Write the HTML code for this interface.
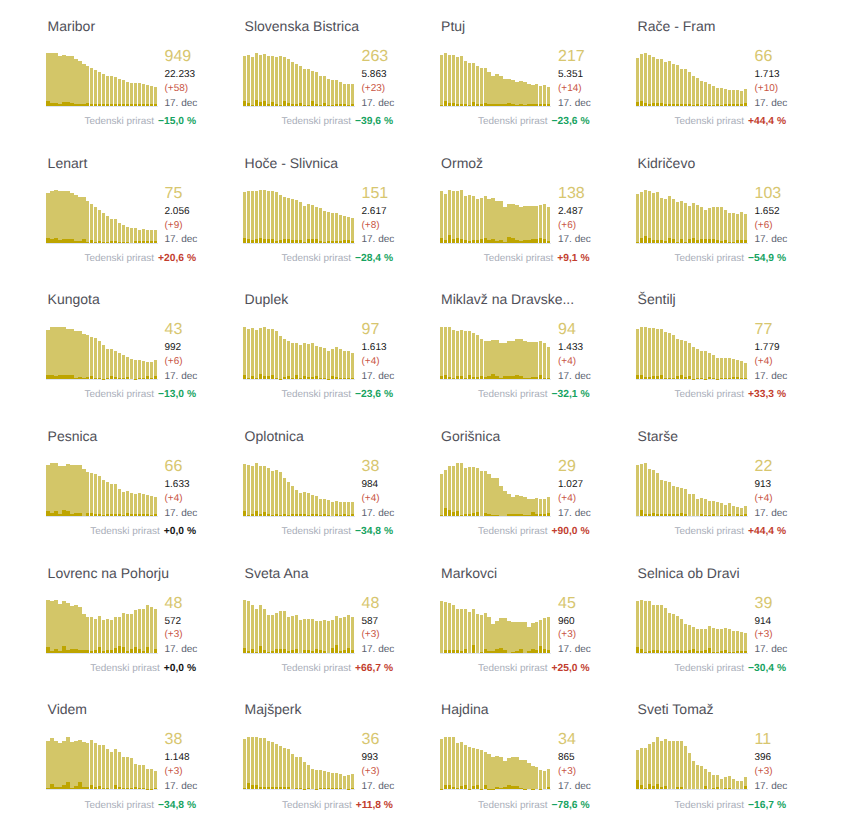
<!DOCTYPE html>
<html><head><meta charset="utf-8"><style>
html,body{margin:0;padding:0;background:#fff;width:843px;height:830px;overflow:hidden}
svg{display:block;font-family:"Liberation Sans", sans-serif}
</style></head><body>
<svg width="843" height="830" viewBox="0 0 843 830" shape-rendering="crispEdges">
<g text-rendering="geometricPrecision" shape-rendering="auto">
<rect x="46" y="53" width="4" height="53" fill="#d3c668"/><rect x="50" y="53" width="4" height="53" fill="#d3c668"/><rect x="54" y="53" width="4" height="53" fill="#d3c668"/><rect x="58" y="56" width="4" height="50" fill="#d3c668"/><rect x="62" y="55" width="4" height="51" fill="#d3c668"/><rect x="66" y="56" width="4" height="50" fill="#d3c668"/><rect x="70" y="56" width="4" height="50" fill="#d3c668"/><rect x="74" y="59" width="4" height="47" fill="#d3c668"/><rect x="78" y="61" width="4" height="45" fill="#d3c668"/><rect x="82" y="64" width="4" height="42" fill="#d3c668"/><rect x="86" y="66" width="3" height="40" fill="#d3c668"/><rect x="90" y="68" width="3" height="38" fill="#d3c668"/><rect x="94" y="70" width="3" height="36" fill="#d3c668"/><rect x="98" y="72" width="3" height="34" fill="#d3c668"/><rect x="102" y="74" width="3" height="32" fill="#d3c668"/><rect x="106" y="76" width="3" height="30" fill="#d3c668"/><rect x="110" y="76" width="3" height="30" fill="#d3c668"/><rect x="114" y="77" width="3" height="29" fill="#d3c668"/><rect x="118" y="79" width="3" height="27" fill="#d3c668"/><rect x="122" y="80" width="3" height="26" fill="#d3c668"/><rect x="126" y="82" width="3" height="24" fill="#d3c668"/><rect x="130" y="83" width="3" height="23" fill="#d3c668"/><rect x="134" y="83" width="3" height="23" fill="#d3c668"/><rect x="138" y="83" width="3" height="23" fill="#d3c668"/><rect x="142" y="84" width="3" height="22" fill="#d3c668"/><rect x="146" y="85" width="3" height="21" fill="#d3c668"/><rect x="150" y="86" width="3" height="20" fill="#d3c668"/><rect x="154" y="87" width="3" height="19" fill="#d3c668"/><rect x="46" y="106" width="112" height="1" fill="#dde4f3"/><rect x="46" y="101" width="4" height="5" fill="#bea500"/><rect x="50" y="103" width="4" height="3" fill="#bea500"/><rect x="54" y="103" width="4" height="3" fill="#bea500"/><rect x="58" y="104" width="4" height="2" fill="#bea500"/><rect x="62" y="102" width="4" height="4" fill="#bea500"/><rect x="66" y="102" width="4" height="4" fill="#bea500"/><rect x="70" y="103" width="4" height="3" fill="#bea500"/><rect x="74" y="104" width="4" height="2" fill="#bea500"/><rect x="78" y="104" width="4" height="2" fill="#bea500"/><rect x="82" y="104" width="4" height="2" fill="#bea500"/><rect x="86" y="103" width="3" height="3" fill="#bea500"/><rect x="90" y="104" width="3" height="2" fill="#bea500"/><rect x="94" y="104" width="3" height="2" fill="#bea500"/><rect x="98" y="104" width="3" height="2" fill="#bea500"/><rect x="102" y="104" width="3" height="2" fill="#bea500"/><rect x="106" y="104" width="3" height="2" fill="#bea500"/><rect x="110" y="104" width="3" height="2" fill="#bea500"/><rect x="114" y="104" width="3" height="2" fill="#bea500"/><rect x="118" y="104" width="3" height="2" fill="#bea500"/><rect x="122" y="104" width="3" height="2" fill="#bea500"/><rect x="126" y="104" width="3" height="2" fill="#bea500"/><rect x="130" y="104" width="3" height="2" fill="#bea500"/><rect x="134" y="104" width="3" height="2" fill="#bea500"/><rect x="138" y="104" width="3" height="2" fill="#bea500"/><rect x="142" y="104" width="3" height="2" fill="#bea500"/><rect x="146" y="104" width="3" height="2" fill="#bea500"/><rect x="150" y="104" width="3" height="2" fill="#bea500"/><rect x="154" y="104" width="3" height="2" fill="#bea500"/>
<text x="47.6" y="31" font-size="14" fill="#4f4f58">Maribor</text>
<text x="164.5" y="61" font-size="16" fill="#d7c66f">949</text>
<text x="164.5" y="77" font-size="10" fill="#161616">22.233</text>
<text x="164.5" y="91" font-size="10" fill="#c85443">(+58)</text>
<text x="164.5" y="106" font-size="10" fill="#5b6270">17. dec</text>
<text x="196" y="124" font-size="10" text-anchor="end"><tspan fill="#a9aeb9" font-size="9.95">Tedenski prirast</tspan><tspan dx="4" font-size="10.25" font-weight="bold" fill="#17a361">−15,0 %</tspan></text>
<rect x="243" y="56" width="3" height="50" fill="#d3c668"/><rect x="247" y="55" width="3" height="51" fill="#d3c668"/><rect x="251" y="57" width="3" height="49" fill="#d3c668"/><rect x="255" y="53" width="3" height="53" fill="#d3c668"/><rect x="259" y="55" width="3" height="51" fill="#d3c668"/><rect x="263" y="54" width="3" height="52" fill="#d3c668"/><rect x="267" y="56" width="3" height="50" fill="#d3c668"/><rect x="271" y="56" width="3" height="50" fill="#d3c668"/><rect x="275" y="57" width="3" height="49" fill="#d3c668"/><rect x="279" y="56" width="3" height="50" fill="#d3c668"/><rect x="283" y="57" width="3" height="49" fill="#d3c668"/><rect x="287" y="59" width="3" height="47" fill="#d3c668"/><rect x="291" y="62" width="3" height="44" fill="#d3c668"/><rect x="295" y="64" width="3" height="42" fill="#d3c668"/><rect x="299" y="66" width="3" height="40" fill="#d3c668"/><rect x="303" y="69" width="3" height="37" fill="#d3c668"/><rect x="307" y="69" width="3" height="37" fill="#d3c668"/><rect x="311" y="71" width="3" height="35" fill="#d3c668"/><rect x="315" y="72" width="3" height="34" fill="#d3c668"/><rect x="319" y="76" width="3" height="30" fill="#d3c668"/><rect x="323" y="76" width="3" height="30" fill="#d3c668"/><rect x="327" y="79" width="3" height="27" fill="#d3c668"/><rect x="331" y="80" width="3" height="26" fill="#d3c668"/><rect x="335" y="80" width="3" height="26" fill="#d3c668"/><rect x="339" y="82" width="3" height="24" fill="#d3c668"/><rect x="343" y="84" width="3" height="22" fill="#d3c668"/><rect x="347" y="84" width="3" height="22" fill="#d3c668"/><rect x="351" y="84" width="3" height="22" fill="#d3c668"/><rect x="243" y="106" width="112" height="1" fill="#dde4f3"/><rect x="243" y="101" width="3" height="5" fill="#bea500"/><rect x="247" y="103" width="3" height="3" fill="#bea500"/><rect x="251" y="105" width="3" height="1" fill="#bea500"/><rect x="255" y="100" width="3" height="6" fill="#bea500"/><rect x="259" y="102" width="3" height="4" fill="#bea500"/><rect x="263" y="101" width="3" height="5" fill="#bea500"/><rect x="267" y="104" width="3" height="2" fill="#bea500"/><rect x="271" y="102" width="3" height="4" fill="#bea500"/><rect x="275" y="104" width="3" height="2" fill="#bea500"/><rect x="279" y="105" width="3" height="1" fill="#bea500"/><rect x="283" y="101" width="3" height="5" fill="#bea500"/><rect x="287" y="103" width="3" height="3" fill="#bea500"/><rect x="291" y="104" width="3" height="2" fill="#bea500"/><rect x="295" y="104" width="3" height="2" fill="#bea500"/><rect x="299" y="103" width="3" height="3" fill="#bea500"/><rect x="303" y="105" width="3" height="1" fill="#bea500"/><rect x="307" y="105" width="3" height="1" fill="#bea500"/><rect x="311" y="101" width="3" height="5" fill="#bea500"/><rect x="315" y="104" width="3" height="2" fill="#bea500"/><rect x="319" y="105" width="3" height="1" fill="#bea500"/><rect x="323" y="103" width="3" height="3" fill="#bea500"/><rect x="327" y="105" width="3" height="1" fill="#bea500"/><rect x="331" y="105" width="3" height="1" fill="#bea500"/><rect x="335" y="104" width="3" height="2" fill="#bea500"/><rect x="339" y="104" width="3" height="2" fill="#bea500"/><rect x="343" y="104" width="3" height="2" fill="#bea500"/><rect x="347" y="105" width="3" height="1" fill="#bea500"/><rect x="351" y="104" width="3" height="2" fill="#bea500"/>
<text x="244.6" y="31" font-size="14" fill="#4f4f58">Slovenska Bistrica</text>
<text x="361.5" y="61" font-size="16" fill="#d7c66f">263</text>
<text x="361.5" y="77" font-size="10" fill="#161616">5.863</text>
<text x="361.5" y="91" font-size="10" fill="#c85443">(+23)</text>
<text x="361.5" y="106" font-size="10" fill="#5b6270">17. dec</text>
<text x="393" y="124" font-size="10" text-anchor="end"><tspan fill="#a9aeb9" font-size="9.95">Tedenski prirast</tspan><tspan dx="4" font-size="10.25" font-weight="bold" fill="#17a361">−39,6 %</tspan></text>
<rect x="440" y="55" width="3" height="51" fill="#d3c668"/><rect x="444" y="53" width="3" height="53" fill="#d3c668"/><rect x="448" y="55" width="3" height="51" fill="#d3c668"/><rect x="452" y="55" width="3" height="51" fill="#d3c668"/><rect x="456" y="57" width="3" height="49" fill="#d3c668"/><rect x="460" y="56" width="3" height="50" fill="#d3c668"/><rect x="464" y="61" width="3" height="45" fill="#d3c668"/><rect x="468" y="63" width="3" height="43" fill="#d3c668"/><rect x="472" y="63" width="3" height="43" fill="#d3c668"/><rect x="476" y="66" width="3" height="40" fill="#d3c668"/><rect x="480" y="68" width="3" height="38" fill="#d3c668"/><rect x="484" y="68" width="3" height="38" fill="#d3c668"/><rect x="487" y="72" width="4" height="34" fill="#d3c668"/><rect x="491" y="76" width="4" height="30" fill="#d3c668"/><rect x="495" y="74" width="4" height="32" fill="#d3c668"/><rect x="499" y="76" width="4" height="30" fill="#d3c668"/><rect x="503" y="79" width="4" height="27" fill="#d3c668"/><rect x="507" y="79" width="4" height="27" fill="#d3c668"/><rect x="511" y="80" width="4" height="26" fill="#d3c668"/><rect x="515" y="82" width="4" height="24" fill="#d3c668"/><rect x="519" y="81" width="4" height="25" fill="#d3c668"/><rect x="523" y="82" width="4" height="24" fill="#d3c668"/><rect x="527" y="84" width="4" height="22" fill="#d3c668"/><rect x="531" y="85" width="4" height="21" fill="#d3c668"/><rect x="535" y="84" width="3" height="22" fill="#d3c668"/><rect x="539" y="86" width="3" height="20" fill="#d3c668"/><rect x="543" y="85" width="3" height="21" fill="#d3c668"/><rect x="547" y="87" width="3" height="19" fill="#d3c668"/><rect x="440" y="106" width="111" height="1" fill="#dde4f3"/><rect x="440" y="105" width="3" height="1" fill="#bea500"/><rect x="444" y="101" width="3" height="5" fill="#bea500"/><rect x="448" y="103" width="3" height="3" fill="#bea500"/><rect x="452" y="103" width="3" height="3" fill="#bea500"/><rect x="456" y="104" width="3" height="2" fill="#bea500"/><rect x="460" y="104" width="3" height="2" fill="#bea500"/><rect x="464" y="104" width="3" height="2" fill="#bea500"/><rect x="468" y="105" width="3" height="1" fill="#bea500"/><rect x="472" y="102" width="3" height="4" fill="#bea500"/><rect x="476" y="104" width="3" height="2" fill="#bea500"/><rect x="480" y="104" width="3" height="2" fill="#bea500"/><rect x="484" y="103" width="3" height="3" fill="#bea500"/><rect x="487" y="104" width="4" height="2" fill="#bea500"/><rect x="491" y="104" width="4" height="2" fill="#bea500"/><rect x="495" y="104" width="4" height="2" fill="#bea500"/><rect x="499" y="104" width="4" height="2" fill="#bea500"/><rect x="503" y="104" width="4" height="2" fill="#bea500"/><rect x="507" y="103" width="4" height="3" fill="#bea500"/><rect x="511" y="104" width="4" height="2" fill="#bea500"/><rect x="515" y="105" width="4" height="1" fill="#bea500"/><rect x="519" y="104" width="4" height="2" fill="#bea500"/><rect x="523" y="105" width="4" height="1" fill="#bea500"/><rect x="527" y="104" width="4" height="2" fill="#bea500"/><rect x="531" y="104" width="4" height="2" fill="#bea500"/><rect x="535" y="104" width="3" height="2" fill="#bea500"/><rect x="539" y="104" width="3" height="2" fill="#bea500"/><rect x="543" y="104" width="3" height="2" fill="#bea500"/><rect x="547" y="104" width="3" height="2" fill="#bea500"/>
<text x="441.1" y="31" font-size="14" fill="#4f4f58">Ptuj</text>
<text x="558.0" y="61" font-size="16" fill="#d7c66f">217</text>
<text x="558.0" y="77" font-size="10" fill="#161616">5.351</text>
<text x="558.0" y="91" font-size="10" fill="#c85443">(+14)</text>
<text x="558.0" y="106" font-size="10" fill="#5b6270">17. dec</text>
<text x="589.5" y="124" font-size="10" text-anchor="end"><tspan fill="#a9aeb9" font-size="9.95">Tedenski prirast</tspan><tspan dx="4" font-size="10.25" font-weight="bold" fill="#17a361">−23,6 %</tspan></text>
<rect x="636" y="58" width="3" height="48" fill="#d3c668"/><rect x="640" y="54" width="3" height="52" fill="#d3c668"/><rect x="644" y="53" width="3" height="53" fill="#d3c668"/><rect x="648" y="55" width="3" height="51" fill="#d3c668"/><rect x="652" y="57" width="3" height="49" fill="#d3c668"/><rect x="656" y="59" width="3" height="47" fill="#d3c668"/><rect x="660" y="59" width="3" height="47" fill="#d3c668"/><rect x="664" y="62" width="3" height="44" fill="#d3c668"/><rect x="668" y="61" width="3" height="45" fill="#d3c668"/><rect x="672" y="64" width="3" height="42" fill="#d3c668"/><rect x="676" y="65" width="3" height="41" fill="#d3c668"/><rect x="680" y="69" width="3" height="37" fill="#d3c668"/><rect x="684" y="69" width="3" height="37" fill="#d3c668"/><rect x="688" y="72" width="3" height="34" fill="#d3c668"/><rect x="692" y="76" width="3" height="30" fill="#d3c668"/><rect x="696" y="78" width="3" height="28" fill="#d3c668"/><rect x="700" y="81" width="3" height="25" fill="#d3c668"/><rect x="704" y="82" width="3" height="24" fill="#d3c668"/><rect x="708" y="84" width="3" height="22" fill="#d3c668"/><rect x="712" y="86" width="3" height="20" fill="#d3c668"/><rect x="716" y="88" width="3" height="18" fill="#d3c668"/><rect x="720" y="88" width="3" height="18" fill="#d3c668"/><rect x="724" y="89" width="3" height="17" fill="#d3c668"/><rect x="728" y="90" width="3" height="16" fill="#d3c668"/><rect x="732" y="90" width="3" height="16" fill="#d3c668"/><rect x="736" y="90" width="3" height="16" fill="#d3c668"/><rect x="740" y="91" width="3" height="15" fill="#d3c668"/><rect x="744" y="89" width="3" height="17" fill="#d3c668"/><rect x="636" y="106" width="112" height="1" fill="#dde4f3"/><rect x="636" y="102" width="3" height="4" fill="#bea500"/><rect x="640" y="101" width="3" height="5" fill="#bea500"/><rect x="644" y="103" width="3" height="3" fill="#bea500"/><rect x="648" y="104" width="3" height="2" fill="#bea500"/><rect x="652" y="103" width="3" height="3" fill="#bea500"/><rect x="656" y="103" width="3" height="3" fill="#bea500"/><rect x="660" y="103" width="3" height="3" fill="#bea500"/><rect x="664" y="104" width="3" height="2" fill="#bea500"/><rect x="668" y="104" width="3" height="2" fill="#bea500"/><rect x="672" y="104" width="3" height="2" fill="#bea500"/><rect x="676" y="104" width="3" height="2" fill="#bea500"/><rect x="680" y="104" width="3" height="2" fill="#bea500"/><rect x="684" y="104" width="3" height="2" fill="#bea500"/><rect x="688" y="104" width="3" height="2" fill="#bea500"/><rect x="692" y="105" width="3" height="1" fill="#bea500"/><rect x="696" y="104" width="3" height="2" fill="#bea500"/><rect x="700" y="105" width="3" height="1" fill="#bea500"/><rect x="704" y="104" width="3" height="2" fill="#bea500"/><rect x="708" y="105" width="3" height="1" fill="#bea500"/><rect x="712" y="105" width="3" height="1" fill="#bea500"/><rect x="716" y="104" width="3" height="2" fill="#bea500"/><rect x="720" y="105" width="3" height="1" fill="#bea500"/><rect x="724" y="104" width="3" height="2" fill="#bea500"/><rect x="728" y="104" width="3" height="2" fill="#bea500"/><rect x="732" y="104" width="3" height="2" fill="#bea500"/><rect x="736" y="104" width="3" height="2" fill="#bea500"/><rect x="740" y="104" width="3" height="2" fill="#bea500"/><rect x="744" y="103" width="3" height="3" fill="#bea500"/>
<text x="637.6" y="31" font-size="14" fill="#4f4f58">Rače - Fram</text>
<text x="754.5" y="61" font-size="16" fill="#d7c66f">66</text>
<text x="754.5" y="77" font-size="10" fill="#161616">1.713</text>
<text x="754.5" y="91" font-size="10" fill="#c85443">(+10)</text>
<text x="754.5" y="106" font-size="10" fill="#5b6270">17. dec</text>
<text x="786" y="124" font-size="10" text-anchor="end"><tspan fill="#a9aeb9" font-size="9.95">Tedenski prirast</tspan><tspan dx="4" font-size="10.25" font-weight="bold" fill="#c23d2e">+44,4 %</tspan></text>
<rect x="46" y="193" width="4" height="50" fill="#d3c668"/><rect x="50" y="191" width="4" height="52" fill="#d3c668"/><rect x="54" y="190" width="4" height="53" fill="#d3c668"/><rect x="58" y="191" width="4" height="52" fill="#d3c668"/><rect x="62" y="191" width="4" height="52" fill="#d3c668"/><rect x="66" y="191" width="4" height="52" fill="#d3c668"/><rect x="70" y="193" width="4" height="50" fill="#d3c668"/><rect x="74" y="195" width="4" height="48" fill="#d3c668"/><rect x="78" y="197" width="4" height="46" fill="#d3c668"/><rect x="82" y="197" width="4" height="46" fill="#d3c668"/><rect x="86" y="201" width="3" height="42" fill="#d3c668"/><rect x="90" y="204" width="3" height="39" fill="#d3c668"/><rect x="94" y="207" width="3" height="36" fill="#d3c668"/><rect x="98" y="210" width="3" height="33" fill="#d3c668"/><rect x="102" y="213" width="3" height="30" fill="#d3c668"/><rect x="106" y="216" width="3" height="27" fill="#d3c668"/><rect x="110" y="219" width="3" height="24" fill="#d3c668"/><rect x="114" y="219" width="3" height="24" fill="#d3c668"/><rect x="118" y="223" width="3" height="20" fill="#d3c668"/><rect x="122" y="225" width="3" height="18" fill="#d3c668"/><rect x="126" y="227" width="3" height="16" fill="#d3c668"/><rect x="130" y="228" width="3" height="15" fill="#d3c668"/><rect x="134" y="228" width="3" height="15" fill="#d3c668"/><rect x="138" y="230" width="3" height="13" fill="#d3c668"/><rect x="142" y="229" width="3" height="14" fill="#d3c668"/><rect x="146" y="230" width="3" height="13" fill="#d3c668"/><rect x="150" y="230" width="3" height="13" fill="#d3c668"/><rect x="154" y="230" width="3" height="13" fill="#d3c668"/><rect x="46" y="243" width="112" height="1" fill="#dde4f3"/><rect x="46" y="238" width="4" height="5" fill="#bea500"/><rect x="50" y="239" width="4" height="4" fill="#bea500"/><rect x="54" y="238" width="4" height="5" fill="#bea500"/><rect x="58" y="240" width="4" height="3" fill="#bea500"/><rect x="62" y="239" width="4" height="4" fill="#bea500"/><rect x="66" y="239" width="4" height="4" fill="#bea500"/><rect x="70" y="239" width="4" height="4" fill="#bea500"/><rect x="74" y="241" width="4" height="2" fill="#bea500"/><rect x="78" y="241" width="4" height="2" fill="#bea500"/><rect x="82" y="239" width="4" height="4" fill="#bea500"/><rect x="86" y="242" width="3" height="1" fill="#bea500"/><rect x="90" y="240" width="3" height="3" fill="#bea500"/><rect x="94" y="242" width="3" height="1" fill="#bea500"/><rect x="98" y="241" width="3" height="2" fill="#bea500"/><rect x="102" y="242" width="3" height="1" fill="#bea500"/><rect x="106" y="242" width="3" height="1" fill="#bea500"/><rect x="110" y="241" width="3" height="2" fill="#bea500"/><rect x="114" y="241" width="3" height="2" fill="#bea500"/><rect x="118" y="242" width="3" height="1" fill="#bea500"/><rect x="122" y="242" width="3" height="1" fill="#bea500"/><rect x="126" y="242" width="3" height="1" fill="#bea500"/><rect x="134" y="241" width="3" height="2" fill="#bea500"/><rect x="138" y="241" width="3" height="2" fill="#bea500"/><rect x="142" y="241" width="3" height="2" fill="#bea500"/><rect x="146" y="241" width="3" height="2" fill="#bea500"/><rect x="150" y="241" width="3" height="2" fill="#bea500"/><rect x="154" y="241" width="3" height="2" fill="#bea500"/>
<text x="47.6" y="168" font-size="14" fill="#4f4f58">Lenart</text>
<text x="164.5" y="198" font-size="16" fill="#d7c66f">75</text>
<text x="164.5" y="214" font-size="10" fill="#161616">2.056</text>
<text x="164.5" y="228" font-size="10" fill="#c85443">(+9)</text>
<text x="164.5" y="242" font-size="10" fill="#5b6270">17. dec</text>
<text x="196" y="261" font-size="10" text-anchor="end"><tspan fill="#a9aeb9" font-size="9.95">Tedenski prirast</tspan><tspan dx="4" font-size="10.25" font-weight="bold" fill="#c23d2e">+20,6 %</tspan></text>
<rect x="243" y="192" width="3" height="51" fill="#d3c668"/><rect x="247" y="191" width="3" height="52" fill="#d3c668"/><rect x="251" y="191" width="3" height="52" fill="#d3c668"/><rect x="255" y="191" width="3" height="52" fill="#d3c668"/><rect x="259" y="190" width="3" height="53" fill="#d3c668"/><rect x="263" y="190" width="3" height="53" fill="#d3c668"/><rect x="267" y="191" width="3" height="52" fill="#d3c668"/><rect x="271" y="191" width="3" height="52" fill="#d3c668"/><rect x="275" y="192" width="3" height="51" fill="#d3c668"/><rect x="279" y="195" width="3" height="48" fill="#d3c668"/><rect x="283" y="197" width="3" height="46" fill="#d3c668"/><rect x="287" y="198" width="3" height="45" fill="#d3c668"/><rect x="291" y="199" width="3" height="44" fill="#d3c668"/><rect x="295" y="200" width="3" height="43" fill="#d3c668"/><rect x="299" y="202" width="3" height="41" fill="#d3c668"/><rect x="303" y="206" width="3" height="37" fill="#d3c668"/><rect x="307" y="204" width="3" height="39" fill="#d3c668"/><rect x="311" y="205" width="3" height="38" fill="#d3c668"/><rect x="315" y="207" width="3" height="36" fill="#d3c668"/><rect x="319" y="208" width="3" height="35" fill="#d3c668"/><rect x="323" y="211" width="3" height="32" fill="#d3c668"/><rect x="327" y="212" width="3" height="31" fill="#d3c668"/><rect x="331" y="213" width="3" height="30" fill="#d3c668"/><rect x="335" y="213" width="3" height="30" fill="#d3c668"/><rect x="339" y="215" width="3" height="28" fill="#d3c668"/><rect x="343" y="216" width="3" height="27" fill="#d3c668"/><rect x="347" y="217" width="3" height="26" fill="#d3c668"/><rect x="351" y="218" width="3" height="25" fill="#d3c668"/><rect x="243" y="243" width="112" height="1" fill="#dde4f3"/><rect x="243" y="238" width="3" height="5" fill="#bea500"/><rect x="247" y="239" width="3" height="4" fill="#bea500"/><rect x="251" y="240" width="3" height="3" fill="#bea500"/><rect x="255" y="239" width="3" height="4" fill="#bea500"/><rect x="259" y="238" width="3" height="5" fill="#bea500"/><rect x="263" y="239" width="3" height="4" fill="#bea500"/><rect x="267" y="239" width="3" height="4" fill="#bea500"/><rect x="271" y="239" width="3" height="4" fill="#bea500"/><rect x="275" y="241" width="3" height="2" fill="#bea500"/><rect x="279" y="240" width="3" height="3" fill="#bea500"/><rect x="283" y="239" width="3" height="4" fill="#bea500"/><rect x="287" y="239" width="3" height="4" fill="#bea500"/><rect x="291" y="240" width="3" height="3" fill="#bea500"/><rect x="295" y="240" width="3" height="3" fill="#bea500"/><rect x="299" y="240" width="3" height="3" fill="#bea500"/><rect x="303" y="242" width="3" height="1" fill="#bea500"/><rect x="307" y="239" width="3" height="4" fill="#bea500"/><rect x="311" y="239" width="3" height="4" fill="#bea500"/><rect x="315" y="239" width="3" height="4" fill="#bea500"/><rect x="319" y="241" width="3" height="2" fill="#bea500"/><rect x="323" y="242" width="3" height="1" fill="#bea500"/><rect x="327" y="241" width="3" height="2" fill="#bea500"/><rect x="331" y="241" width="3" height="2" fill="#bea500"/><rect x="335" y="241" width="3" height="2" fill="#bea500"/><rect x="339" y="241" width="3" height="2" fill="#bea500"/><rect x="343" y="240" width="3" height="3" fill="#bea500"/><rect x="347" y="240" width="3" height="3" fill="#bea500"/><rect x="351" y="241" width="3" height="2" fill="#bea500"/>
<text x="244.6" y="168" font-size="14" fill="#4f4f58">Hoče - Slivnica</text>
<text x="361.5" y="198" font-size="16" fill="#d7c66f">151</text>
<text x="361.5" y="214" font-size="10" fill="#161616">2.617</text>
<text x="361.5" y="228" font-size="10" fill="#c85443">(+8)</text>
<text x="361.5" y="242" font-size="10" fill="#5b6270">17. dec</text>
<text x="393" y="261" font-size="10" text-anchor="end"><tspan fill="#a9aeb9" font-size="9.95">Tedenski prirast</tspan><tspan dx="4" font-size="10.25" font-weight="bold" fill="#17a361">−28,4 %</tspan></text>
<rect x="440" y="191" width="3" height="52" fill="#d3c668"/><rect x="444" y="194" width="3" height="49" fill="#d3c668"/><rect x="448" y="190" width="3" height="53" fill="#d3c668"/><rect x="452" y="191" width="3" height="52" fill="#d3c668"/><rect x="456" y="191" width="3" height="52" fill="#d3c668"/><rect x="460" y="190" width="3" height="53" fill="#d3c668"/><rect x="464" y="196" width="3" height="47" fill="#d3c668"/><rect x="468" y="195" width="3" height="48" fill="#d3c668"/><rect x="472" y="196" width="3" height="47" fill="#d3c668"/><rect x="476" y="199" width="3" height="44" fill="#d3c668"/><rect x="480" y="198" width="3" height="45" fill="#d3c668"/><rect x="484" y="196" width="3" height="47" fill="#d3c668"/><rect x="487" y="199" width="4" height="44" fill="#d3c668"/><rect x="491" y="198" width="4" height="45" fill="#d3c668"/><rect x="495" y="201" width="4" height="42" fill="#d3c668"/><rect x="499" y="201" width="4" height="42" fill="#d3c668"/><rect x="503" y="207" width="4" height="36" fill="#d3c668"/><rect x="507" y="204" width="4" height="39" fill="#d3c668"/><rect x="511" y="204" width="4" height="39" fill="#d3c668"/><rect x="515" y="205" width="4" height="38" fill="#d3c668"/><rect x="519" y="207" width="4" height="36" fill="#d3c668"/><rect x="523" y="206" width="4" height="37" fill="#d3c668"/><rect x="527" y="206" width="4" height="37" fill="#d3c668"/><rect x="531" y="206" width="4" height="37" fill="#d3c668"/><rect x="535" y="206" width="3" height="37" fill="#d3c668"/><rect x="539" y="205" width="3" height="38" fill="#d3c668"/><rect x="543" y="204" width="3" height="39" fill="#d3c668"/><rect x="547" y="207" width="3" height="36" fill="#d3c668"/><rect x="440" y="243" width="111" height="1" fill="#dde4f3"/><rect x="440" y="238" width="3" height="5" fill="#bea500"/><rect x="444" y="240" width="3" height="3" fill="#bea500"/><rect x="448" y="235" width="3" height="8" fill="#bea500"/><rect x="452" y="239" width="3" height="4" fill="#bea500"/><rect x="456" y="238" width="3" height="5" fill="#bea500"/><rect x="460" y="239" width="3" height="4" fill="#bea500"/><rect x="464" y="240" width="3" height="3" fill="#bea500"/><rect x="468" y="241" width="3" height="2" fill="#bea500"/><rect x="472" y="240" width="3" height="3" fill="#bea500"/><rect x="476" y="240" width="3" height="3" fill="#bea500"/><rect x="480" y="239" width="3" height="4" fill="#bea500"/><rect x="484" y="238" width="3" height="5" fill="#bea500"/><rect x="487" y="240" width="4" height="3" fill="#bea500"/><rect x="491" y="239" width="4" height="4" fill="#bea500"/><rect x="495" y="241" width="4" height="2" fill="#bea500"/><rect x="499" y="240" width="4" height="3" fill="#bea500"/><rect x="503" y="242" width="4" height="1" fill="#bea500"/><rect x="507" y="237" width="4" height="6" fill="#bea500"/><rect x="511" y="238" width="4" height="5" fill="#bea500"/><rect x="515" y="240" width="4" height="3" fill="#bea500"/><rect x="519" y="241" width="4" height="2" fill="#bea500"/><rect x="523" y="240" width="4" height="3" fill="#bea500"/><rect x="527" y="240" width="4" height="3" fill="#bea500"/><rect x="531" y="239" width="4" height="4" fill="#bea500"/><rect x="535" y="239" width="3" height="4" fill="#bea500"/><rect x="539" y="238" width="3" height="5" fill="#bea500"/><rect x="543" y="239" width="3" height="4" fill="#bea500"/><rect x="547" y="241" width="3" height="2" fill="#bea500"/>
<text x="441.1" y="168" font-size="14" fill="#4f4f58">Ormož</text>
<text x="558.0" y="198" font-size="16" fill="#d7c66f">138</text>
<text x="558.0" y="214" font-size="10" fill="#161616">2.487</text>
<text x="558.0" y="228" font-size="10" fill="#c85443">(+6)</text>
<text x="558.0" y="242" font-size="10" fill="#5b6270">17. dec</text>
<text x="589.5" y="261" font-size="10" text-anchor="end"><tspan fill="#a9aeb9" font-size="9.95">Tedenski prirast</tspan><tspan dx="4" font-size="10.25" font-weight="bold" fill="#c23d2e">+9,1 %</tspan></text>
<rect x="636" y="194" width="3" height="49" fill="#d3c668"/><rect x="640" y="192" width="3" height="51" fill="#d3c668"/><rect x="644" y="190" width="3" height="53" fill="#d3c668"/><rect x="648" y="191" width="3" height="52" fill="#d3c668"/><rect x="652" y="193" width="3" height="50" fill="#d3c668"/><rect x="656" y="192" width="3" height="51" fill="#d3c668"/><rect x="660" y="198" width="3" height="45" fill="#d3c668"/><rect x="664" y="199" width="3" height="44" fill="#d3c668"/><rect x="668" y="196" width="3" height="47" fill="#d3c668"/><rect x="672" y="199" width="3" height="44" fill="#d3c668"/><rect x="676" y="202" width="3" height="41" fill="#d3c668"/><rect x="680" y="201" width="3" height="42" fill="#d3c668"/><rect x="684" y="203" width="3" height="40" fill="#d3c668"/><rect x="688" y="206" width="3" height="37" fill="#d3c668"/><rect x="692" y="203" width="3" height="40" fill="#d3c668"/><rect x="696" y="205" width="3" height="38" fill="#d3c668"/><rect x="700" y="207" width="3" height="36" fill="#d3c668"/><rect x="704" y="210" width="3" height="33" fill="#d3c668"/><rect x="708" y="208" width="3" height="35" fill="#d3c668"/><rect x="712" y="207" width="3" height="36" fill="#d3c668"/><rect x="716" y="207" width="3" height="36" fill="#d3c668"/><rect x="720" y="207" width="3" height="36" fill="#d3c668"/><rect x="724" y="210" width="3" height="33" fill="#d3c668"/><rect x="728" y="213" width="3" height="30" fill="#d3c668"/><rect x="732" y="213" width="3" height="30" fill="#d3c668"/><rect x="736" y="214" width="3" height="29" fill="#d3c668"/><rect x="740" y="212" width="3" height="31" fill="#d3c668"/><rect x="744" y="214" width="3" height="29" fill="#d3c668"/><rect x="636" y="243" width="112" height="1" fill="#dde4f3"/><rect x="636" y="242" width="3" height="1" fill="#bea500"/><rect x="640" y="238" width="3" height="5" fill="#bea500"/><rect x="644" y="236" width="3" height="7" fill="#bea500"/><rect x="648" y="238" width="3" height="5" fill="#bea500"/><rect x="652" y="240" width="3" height="3" fill="#bea500"/><rect x="656" y="240" width="3" height="3" fill="#bea500"/><rect x="660" y="240" width="3" height="3" fill="#bea500"/><rect x="664" y="241" width="3" height="2" fill="#bea500"/><rect x="668" y="238" width="3" height="5" fill="#bea500"/><rect x="672" y="239" width="3" height="4" fill="#bea500"/><rect x="676" y="242" width="3" height="1" fill="#bea500"/><rect x="680" y="239" width="3" height="4" fill="#bea500"/><rect x="684" y="242" width="3" height="1" fill="#bea500"/><rect x="688" y="239" width="3" height="4" fill="#bea500"/><rect x="692" y="238" width="3" height="5" fill="#bea500"/><rect x="696" y="240" width="3" height="3" fill="#bea500"/><rect x="700" y="239" width="3" height="4" fill="#bea500"/><rect x="704" y="239" width="3" height="4" fill="#bea500"/><rect x="708" y="239" width="3" height="4" fill="#bea500"/><rect x="712" y="239" width="3" height="4" fill="#bea500"/><rect x="716" y="240" width="3" height="3" fill="#bea500"/><rect x="720" y="241" width="3" height="2" fill="#bea500"/><rect x="724" y="240" width="3" height="3" fill="#bea500"/><rect x="728" y="242" width="3" height="1" fill="#bea500"/><rect x="732" y="242" width="3" height="1" fill="#bea500"/><rect x="736" y="240" width="3" height="3" fill="#bea500"/><rect x="740" y="240" width="3" height="3" fill="#bea500"/><rect x="744" y="240" width="3" height="3" fill="#bea500"/>
<text x="637.6" y="168" font-size="14" fill="#4f4f58">Kidričevo</text>
<text x="754.5" y="198" font-size="16" fill="#d7c66f">103</text>
<text x="754.5" y="214" font-size="10" fill="#161616">1.652</text>
<text x="754.5" y="228" font-size="10" fill="#c85443">(+6)</text>
<text x="754.5" y="242" font-size="10" fill="#5b6270">17. dec</text>
<text x="786" y="261" font-size="10" text-anchor="end"><tspan fill="#a9aeb9" font-size="9.95">Tedenski prirast</tspan><tspan dx="4" font-size="10.25" font-weight="bold" fill="#17a361">−54,9 %</tspan></text>
<rect x="46" y="330" width="4" height="49" fill="#d3c668"/><rect x="50" y="327" width="4" height="52" fill="#d3c668"/><rect x="54" y="327" width="4" height="52" fill="#d3c668"/><rect x="58" y="327" width="4" height="52" fill="#d3c668"/><rect x="62" y="327" width="4" height="52" fill="#d3c668"/><rect x="66" y="329" width="4" height="50" fill="#d3c668"/><rect x="70" y="329" width="4" height="50" fill="#d3c668"/><rect x="74" y="331" width="4" height="48" fill="#d3c668"/><rect x="78" y="331" width="4" height="48" fill="#d3c668"/><rect x="82" y="334" width="4" height="45" fill="#d3c668"/><rect x="86" y="335" width="3" height="44" fill="#d3c668"/><rect x="90" y="337" width="3" height="42" fill="#d3c668"/><rect x="94" y="338" width="3" height="41" fill="#d3c668"/><rect x="98" y="341" width="3" height="38" fill="#d3c668"/><rect x="102" y="345" width="3" height="34" fill="#d3c668"/><rect x="106" y="349" width="3" height="30" fill="#d3c668"/><rect x="110" y="349" width="3" height="30" fill="#d3c668"/><rect x="114" y="351" width="3" height="28" fill="#d3c668"/><rect x="118" y="353" width="3" height="26" fill="#d3c668"/><rect x="122" y="355" width="3" height="24" fill="#d3c668"/><rect x="126" y="357" width="3" height="22" fill="#d3c668"/><rect x="130" y="359" width="3" height="20" fill="#d3c668"/><rect x="134" y="360" width="3" height="19" fill="#d3c668"/><rect x="138" y="360" width="3" height="19" fill="#d3c668"/><rect x="142" y="361" width="3" height="18" fill="#d3c668"/><rect x="146" y="362" width="3" height="17" fill="#d3c668"/><rect x="150" y="362" width="3" height="17" fill="#d3c668"/><rect x="154" y="360" width="3" height="19" fill="#d3c668"/><rect x="46" y="379" width="112" height="1" fill="#dde4f3"/><rect x="46" y="375" width="4" height="4" fill="#bea500"/><rect x="50" y="375" width="4" height="4" fill="#bea500"/><rect x="54" y="376" width="4" height="3" fill="#bea500"/><rect x="58" y="375" width="4" height="4" fill="#bea500"/><rect x="62" y="375" width="4" height="4" fill="#bea500"/><rect x="66" y="375" width="4" height="4" fill="#bea500"/><rect x="70" y="375" width="4" height="4" fill="#bea500"/><rect x="74" y="378" width="4" height="1" fill="#bea500"/><rect x="78" y="377" width="4" height="2" fill="#bea500"/><rect x="82" y="378" width="4" height="1" fill="#bea500"/><rect x="86" y="377" width="3" height="2" fill="#bea500"/><rect x="90" y="376" width="3" height="3" fill="#bea500"/><rect x="94" y="378" width="3" height="1" fill="#bea500"/><rect x="98" y="378" width="3" height="1" fill="#bea500"/><rect x="102" y="379" width="3" height="1" fill="#bea500"/><rect x="106" y="378" width="3" height="1" fill="#bea500"/><rect x="110" y="376" width="3" height="3" fill="#bea500"/><rect x="114" y="377" width="3" height="2" fill="#bea500"/><rect x="118" y="378" width="3" height="1" fill="#bea500"/><rect x="122" y="378" width="3" height="1" fill="#bea500"/><rect x="126" y="377" width="3" height="2" fill="#bea500"/><rect x="134" y="379" width="3" height="1" fill="#bea500"/><rect x="138" y="378" width="3" height="1" fill="#bea500"/><rect x="142" y="378" width="3" height="1" fill="#bea500"/><rect x="146" y="376" width="3" height="3" fill="#bea500"/><rect x="150" y="378" width="3" height="1" fill="#bea500"/><rect x="154" y="376" width="3" height="3" fill="#bea500"/>
<text x="47.6" y="304" font-size="14" fill="#4f4f58">Kungota</text>
<text x="164.5" y="334" font-size="16" fill="#d7c66f">43</text>
<text x="164.5" y="350" font-size="10" fill="#161616">992</text>
<text x="164.5" y="364" font-size="10" fill="#c85443">(+6)</text>
<text x="164.5" y="379" font-size="10" fill="#5b6270">17. dec</text>
<text x="196" y="397" font-size="10" text-anchor="end"><tspan fill="#a9aeb9" font-size="9.95">Tedenski prirast</tspan><tspan dx="4" font-size="10.25" font-weight="bold" fill="#17a361">−13,0 %</tspan></text>
<rect x="243" y="327" width="3" height="52" fill="#d3c668"/><rect x="247" y="329" width="3" height="50" fill="#d3c668"/><rect x="251" y="328" width="3" height="51" fill="#d3c668"/><rect x="255" y="330" width="3" height="49" fill="#d3c668"/><rect x="259" y="328" width="3" height="51" fill="#d3c668"/><rect x="263" y="327" width="3" height="52" fill="#d3c668"/><rect x="267" y="329" width="3" height="50" fill="#d3c668"/><rect x="271" y="329" width="3" height="50" fill="#d3c668"/><rect x="275" y="331" width="3" height="48" fill="#d3c668"/><rect x="279" y="336" width="3" height="43" fill="#d3c668"/><rect x="283" y="339" width="3" height="40" fill="#d3c668"/><rect x="287" y="341" width="3" height="38" fill="#d3c668"/><rect x="291" y="343" width="3" height="36" fill="#d3c668"/><rect x="295" y="343" width="3" height="36" fill="#d3c668"/><rect x="299" y="345" width="3" height="34" fill="#d3c668"/><rect x="303" y="343" width="3" height="36" fill="#d3c668"/><rect x="307" y="344" width="3" height="35" fill="#d3c668"/><rect x="311" y="343" width="3" height="36" fill="#d3c668"/><rect x="315" y="346" width="3" height="33" fill="#d3c668"/><rect x="319" y="347" width="3" height="32" fill="#d3c668"/><rect x="323" y="348" width="3" height="31" fill="#d3c668"/><rect x="327" y="351" width="3" height="28" fill="#d3c668"/><rect x="331" y="349" width="3" height="30" fill="#d3c668"/><rect x="335" y="347" width="3" height="32" fill="#d3c668"/><rect x="339" y="349" width="3" height="30" fill="#d3c668"/><rect x="343" y="351" width="3" height="28" fill="#d3c668"/><rect x="347" y="351" width="3" height="28" fill="#d3c668"/><rect x="351" y="353" width="3" height="26" fill="#d3c668"/><rect x="243" y="379" width="112" height="1" fill="#dde4f3"/><rect x="243" y="375" width="3" height="4" fill="#bea500"/><rect x="247" y="378" width="3" height="1" fill="#bea500"/><rect x="251" y="376" width="3" height="3" fill="#bea500"/><rect x="255" y="378" width="3" height="1" fill="#bea500"/><rect x="259" y="374" width="3" height="5" fill="#bea500"/><rect x="263" y="376" width="3" height="3" fill="#bea500"/><rect x="267" y="376" width="3" height="3" fill="#bea500"/><rect x="271" y="375" width="3" height="4" fill="#bea500"/><rect x="275" y="378" width="3" height="1" fill="#bea500"/><rect x="279" y="379" width="3" height="1" fill="#bea500"/><rect x="283" y="377" width="3" height="2" fill="#bea500"/><rect x="287" y="376" width="3" height="3" fill="#bea500"/><rect x="291" y="378" width="3" height="1" fill="#bea500"/><rect x="295" y="375" width="3" height="4" fill="#bea500"/><rect x="299" y="378" width="3" height="1" fill="#bea500"/><rect x="303" y="376" width="3" height="3" fill="#bea500"/><rect x="307" y="377" width="3" height="2" fill="#bea500"/><rect x="311" y="377" width="3" height="2" fill="#bea500"/><rect x="315" y="376" width="3" height="3" fill="#bea500"/><rect x="319" y="378" width="3" height="1" fill="#bea500"/><rect x="323" y="378" width="3" height="1" fill="#bea500"/><rect x="327" y="379" width="3" height="1" fill="#bea500"/><rect x="331" y="376" width="3" height="3" fill="#bea500"/><rect x="335" y="377" width="3" height="2" fill="#bea500"/><rect x="339" y="378" width="3" height="1" fill="#bea500"/><rect x="343" y="378" width="3" height="1" fill="#bea500"/><rect x="347" y="378" width="3" height="1" fill="#bea500"/><rect x="351" y="378" width="3" height="1" fill="#bea500"/>
<text x="244.6" y="304" font-size="14" fill="#4f4f58">Duplek</text>
<text x="361.5" y="334" font-size="16" fill="#d7c66f">97</text>
<text x="361.5" y="350" font-size="10" fill="#161616">1.613</text>
<text x="361.5" y="364" font-size="10" fill="#c85443">(+4)</text>
<text x="361.5" y="379" font-size="10" fill="#5b6270">17. dec</text>
<text x="393" y="397" font-size="10" text-anchor="end"><tspan fill="#a9aeb9" font-size="9.95">Tedenski prirast</tspan><tspan dx="4" font-size="10.25" font-weight="bold" fill="#17a361">−23,6 %</tspan></text>
<rect x="440" y="327" width="3" height="52" fill="#d3c668"/><rect x="444" y="327" width="3" height="52" fill="#d3c668"/><rect x="448" y="327" width="3" height="52" fill="#d3c668"/><rect x="452" y="330" width="3" height="49" fill="#d3c668"/><rect x="456" y="331" width="3" height="48" fill="#d3c668"/><rect x="460" y="330" width="3" height="49" fill="#d3c668"/><rect x="464" y="331" width="3" height="48" fill="#d3c668"/><rect x="468" y="331" width="3" height="48" fill="#d3c668"/><rect x="472" y="333" width="3" height="46" fill="#d3c668"/><rect x="476" y="335" width="3" height="44" fill="#d3c668"/><rect x="480" y="339" width="3" height="40" fill="#d3c668"/><rect x="484" y="341" width="3" height="38" fill="#d3c668"/><rect x="487" y="341" width="4" height="38" fill="#d3c668"/><rect x="491" y="340" width="4" height="39" fill="#d3c668"/><rect x="495" y="340" width="4" height="39" fill="#d3c668"/><rect x="499" y="343" width="4" height="36" fill="#d3c668"/><rect x="503" y="343" width="4" height="36" fill="#d3c668"/><rect x="507" y="341" width="4" height="38" fill="#d3c668"/><rect x="511" y="341" width="4" height="38" fill="#d3c668"/><rect x="515" y="339" width="4" height="40" fill="#d3c668"/><rect x="519" y="339" width="4" height="40" fill="#d3c668"/><rect x="523" y="341" width="4" height="38" fill="#d3c668"/><rect x="527" y="342" width="4" height="37" fill="#d3c668"/><rect x="531" y="342" width="4" height="37" fill="#d3c668"/><rect x="535" y="342" width="3" height="37" fill="#d3c668"/><rect x="539" y="341" width="3" height="38" fill="#d3c668"/><rect x="543" y="343" width="3" height="36" fill="#d3c668"/><rect x="547" y="347" width="3" height="32" fill="#d3c668"/><rect x="440" y="379" width="111" height="1" fill="#dde4f3"/><rect x="440" y="376" width="3" height="3" fill="#bea500"/><rect x="444" y="375" width="3" height="4" fill="#bea500"/><rect x="448" y="377" width="3" height="2" fill="#bea500"/><rect x="452" y="378" width="3" height="1" fill="#bea500"/><rect x="456" y="376" width="3" height="3" fill="#bea500"/><rect x="460" y="376" width="3" height="3" fill="#bea500"/><rect x="464" y="378" width="3" height="1" fill="#bea500"/><rect x="468" y="375" width="3" height="4" fill="#bea500"/><rect x="472" y="377" width="3" height="2" fill="#bea500"/><rect x="476" y="377" width="3" height="2" fill="#bea500"/><rect x="480" y="376" width="3" height="3" fill="#bea500"/><rect x="484" y="377" width="3" height="2" fill="#bea500"/><rect x="487" y="376" width="4" height="3" fill="#bea500"/><rect x="491" y="374" width="4" height="5" fill="#bea500"/><rect x="495" y="376" width="4" height="3" fill="#bea500"/><rect x="499" y="378" width="4" height="1" fill="#bea500"/><rect x="503" y="376" width="4" height="3" fill="#bea500"/><rect x="507" y="376" width="4" height="3" fill="#bea500"/><rect x="511" y="376" width="4" height="3" fill="#bea500"/><rect x="515" y="375" width="4" height="4" fill="#bea500"/><rect x="519" y="376" width="4" height="3" fill="#bea500"/><rect x="523" y="378" width="4" height="1" fill="#bea500"/><rect x="527" y="378" width="4" height="1" fill="#bea500"/><rect x="531" y="377" width="4" height="2" fill="#bea500"/><rect x="535" y="377" width="3" height="2" fill="#bea500"/><rect x="539" y="375" width="3" height="4" fill="#bea500"/><rect x="543" y="378" width="3" height="1" fill="#bea500"/><rect x="547" y="378" width="3" height="1" fill="#bea500"/>
<text x="441.1" y="304" font-size="14" fill="#4f4f58">Miklavž na Dravske...</text>
<text x="558.0" y="334" font-size="16" fill="#d7c66f">94</text>
<text x="558.0" y="350" font-size="10" fill="#161616">1.433</text>
<text x="558.0" y="364" font-size="10" fill="#c85443">(+4)</text>
<text x="558.0" y="379" font-size="10" fill="#5b6270">17. dec</text>
<text x="589.5" y="397" font-size="10" text-anchor="end"><tspan fill="#a9aeb9" font-size="9.95">Tedenski prirast</tspan><tspan dx="4" font-size="10.25" font-weight="bold" fill="#17a361">−32,1 %</tspan></text>
<rect x="636" y="329" width="3" height="50" fill="#d3c668"/><rect x="640" y="327" width="3" height="52" fill="#d3c668"/><rect x="644" y="327" width="3" height="52" fill="#d3c668"/><rect x="648" y="328" width="3" height="51" fill="#d3c668"/><rect x="652" y="328" width="3" height="51" fill="#d3c668"/><rect x="656" y="329" width="3" height="50" fill="#d3c668"/><rect x="660" y="329" width="3" height="50" fill="#d3c668"/><rect x="664" y="332" width="3" height="47" fill="#d3c668"/><rect x="668" y="333" width="3" height="46" fill="#d3c668"/><rect x="672" y="335" width="3" height="44" fill="#d3c668"/><rect x="676" y="339" width="3" height="40" fill="#d3c668"/><rect x="680" y="340" width="3" height="39" fill="#d3c668"/><rect x="684" y="341" width="3" height="38" fill="#d3c668"/><rect x="688" y="343" width="3" height="36" fill="#d3c668"/><rect x="692" y="347" width="3" height="32" fill="#d3c668"/><rect x="696" y="349" width="3" height="30" fill="#d3c668"/><rect x="700" y="351" width="3" height="28" fill="#d3c668"/><rect x="704" y="351" width="3" height="28" fill="#d3c668"/><rect x="708" y="353" width="3" height="26" fill="#d3c668"/><rect x="712" y="355" width="3" height="24" fill="#d3c668"/><rect x="716" y="358" width="3" height="21" fill="#d3c668"/><rect x="720" y="358" width="3" height="21" fill="#d3c668"/><rect x="724" y="358" width="3" height="21" fill="#d3c668"/><rect x="728" y="358" width="3" height="21" fill="#d3c668"/><rect x="732" y="359" width="3" height="20" fill="#d3c668"/><rect x="736" y="360" width="3" height="19" fill="#d3c668"/><rect x="740" y="361" width="3" height="18" fill="#d3c668"/><rect x="744" y="363" width="3" height="16" fill="#d3c668"/><rect x="636" y="379" width="112" height="1" fill="#dde4f3"/><rect x="636" y="375" width="3" height="4" fill="#bea500"/><rect x="640" y="375" width="3" height="4" fill="#bea500"/><rect x="644" y="377" width="3" height="2" fill="#bea500"/><rect x="648" y="377" width="3" height="2" fill="#bea500"/><rect x="652" y="376" width="3" height="3" fill="#bea500"/><rect x="656" y="376" width="3" height="3" fill="#bea500"/><rect x="660" y="375" width="3" height="4" fill="#bea500"/><rect x="664" y="378" width="3" height="1" fill="#bea500"/><rect x="668" y="378" width="3" height="1" fill="#bea500"/><rect x="672" y="378" width="3" height="1" fill="#bea500"/><rect x="676" y="376" width="3" height="3" fill="#bea500"/><rect x="680" y="375" width="3" height="4" fill="#bea500"/><rect x="684" y="377" width="3" height="2" fill="#bea500"/><rect x="688" y="376" width="3" height="3" fill="#bea500"/><rect x="692" y="379" width="3" height="1" fill="#bea500"/><rect x="696" y="378" width="3" height="1" fill="#bea500"/><rect x="700" y="378" width="3" height="1" fill="#bea500"/><rect x="704" y="379" width="3" height="1" fill="#bea500"/><rect x="708" y="377" width="3" height="2" fill="#bea500"/><rect x="712" y="378" width="3" height="1" fill="#bea500"/><rect x="716" y="379" width="3" height="1" fill="#bea500"/><rect x="720" y="378" width="3" height="1" fill="#bea500"/><rect x="724" y="378" width="3" height="1" fill="#bea500"/><rect x="728" y="378" width="3" height="1" fill="#bea500"/><rect x="732" y="377" width="3" height="2" fill="#bea500"/><rect x="736" y="377" width="3" height="2" fill="#bea500"/><rect x="740" y="378" width="3" height="1" fill="#bea500"/><rect x="744" y="378" width="3" height="1" fill="#bea500"/>
<text x="637.6" y="304" font-size="14" fill="#4f4f58">Šentilj</text>
<text x="754.5" y="334" font-size="16" fill="#d7c66f">77</text>
<text x="754.5" y="350" font-size="10" fill="#161616">1.779</text>
<text x="754.5" y="364" font-size="10" fill="#c85443">(+4)</text>
<text x="754.5" y="379" font-size="10" fill="#5b6270">17. dec</text>
<text x="786" y="397" font-size="10" text-anchor="end"><tspan fill="#a9aeb9" font-size="9.95">Tedenski prirast</tspan><tspan dx="4" font-size="10.25" font-weight="bold" fill="#c23d2e">+33,3 %</tspan></text>
<rect x="46" y="465" width="4" height="51" fill="#d3c668"/><rect x="50" y="463" width="4" height="53" fill="#d3c668"/><rect x="54" y="463" width="4" height="53" fill="#d3c668"/><rect x="58" y="466" width="4" height="50" fill="#d3c668"/><rect x="62" y="466" width="4" height="50" fill="#d3c668"/><rect x="66" y="464" width="4" height="52" fill="#d3c668"/><rect x="70" y="465" width="4" height="51" fill="#d3c668"/><rect x="74" y="465" width="4" height="51" fill="#d3c668"/><rect x="78" y="465" width="4" height="51" fill="#d3c668"/><rect x="82" y="469" width="4" height="47" fill="#d3c668"/><rect x="86" y="472" width="3" height="44" fill="#d3c668"/><rect x="90" y="473" width="3" height="43" fill="#d3c668"/><rect x="94" y="474" width="3" height="42" fill="#d3c668"/><rect x="98" y="476" width="3" height="40" fill="#d3c668"/><rect x="102" y="480" width="3" height="36" fill="#d3c668"/><rect x="106" y="482" width="3" height="34" fill="#d3c668"/><rect x="110" y="484" width="3" height="32" fill="#d3c668"/><rect x="114" y="484" width="3" height="32" fill="#d3c668"/><rect x="118" y="489" width="3" height="27" fill="#d3c668"/><rect x="122" y="492" width="3" height="24" fill="#d3c668"/><rect x="126" y="491" width="3" height="25" fill="#d3c668"/><rect x="130" y="493" width="3" height="23" fill="#d3c668"/><rect x="134" y="494" width="3" height="22" fill="#d3c668"/><rect x="138" y="493" width="3" height="23" fill="#d3c668"/><rect x="142" y="494" width="3" height="22" fill="#d3c668"/><rect x="146" y="495" width="3" height="21" fill="#d3c668"/><rect x="150" y="496" width="3" height="20" fill="#d3c668"/><rect x="154" y="497" width="3" height="19" fill="#d3c668"/><rect x="46" y="516" width="112" height="1" fill="#dde4f3"/><rect x="46" y="511" width="4" height="5" fill="#bea500"/><rect x="50" y="513" width="4" height="3" fill="#bea500"/><rect x="54" y="511" width="4" height="5" fill="#bea500"/><rect x="58" y="514" width="4" height="2" fill="#bea500"/><rect x="62" y="510" width="4" height="6" fill="#bea500"/><rect x="66" y="511" width="4" height="5" fill="#bea500"/><rect x="70" y="514" width="4" height="2" fill="#bea500"/><rect x="74" y="513" width="4" height="3" fill="#bea500"/><rect x="78" y="513" width="4" height="3" fill="#bea500"/><rect x="86" y="513" width="3" height="3" fill="#bea500"/><rect x="90" y="513" width="3" height="3" fill="#bea500"/><rect x="94" y="514" width="3" height="2" fill="#bea500"/><rect x="98" y="514" width="3" height="2" fill="#bea500"/><rect x="102" y="515" width="3" height="1" fill="#bea500"/><rect x="106" y="514" width="3" height="2" fill="#bea500"/><rect x="110" y="514" width="3" height="2" fill="#bea500"/><rect x="114" y="514" width="3" height="2" fill="#bea500"/><rect x="118" y="514" width="3" height="2" fill="#bea500"/><rect x="122" y="515" width="3" height="1" fill="#bea500"/><rect x="126" y="513" width="3" height="3" fill="#bea500"/><rect x="130" y="514" width="3" height="2" fill="#bea500"/><rect x="134" y="514" width="3" height="2" fill="#bea500"/><rect x="138" y="514" width="3" height="2" fill="#bea500"/><rect x="142" y="514" width="3" height="2" fill="#bea500"/><rect x="146" y="514" width="3" height="2" fill="#bea500"/><rect x="150" y="515" width="3" height="1" fill="#bea500"/><rect x="154" y="514" width="3" height="2" fill="#bea500"/>
<text x="47.6" y="441" font-size="14" fill="#4f4f58">Pesnica</text>
<text x="164.5" y="471" font-size="16" fill="#d7c66f">66</text>
<text x="164.5" y="487" font-size="10" fill="#161616">1.633</text>
<text x="164.5" y="501" font-size="10" fill="#c85443">(+4)</text>
<text x="164.5" y="516" font-size="10" fill="#5b6270">17. dec</text>
<text x="196" y="534" font-size="10" text-anchor="end"><tspan fill="#a9aeb9" font-size="9.95">Tedenski prirast</tspan><tspan dx="4" font-size="10.25" font-weight="bold" fill="#161616">+0,0 %</tspan></text>
<rect x="243" y="464" width="3" height="52" fill="#d3c668"/><rect x="247" y="465" width="3" height="51" fill="#d3c668"/><rect x="251" y="466" width="3" height="50" fill="#d3c668"/><rect x="255" y="463" width="3" height="53" fill="#d3c668"/><rect x="259" y="466" width="3" height="50" fill="#d3c668"/><rect x="263" y="466" width="3" height="50" fill="#d3c668"/><rect x="267" y="468" width="3" height="48" fill="#d3c668"/><rect x="271" y="471" width="3" height="45" fill="#d3c668"/><rect x="275" y="470" width="3" height="46" fill="#d3c668"/><rect x="279" y="472" width="3" height="44" fill="#d3c668"/><rect x="283" y="478" width="3" height="38" fill="#d3c668"/><rect x="287" y="482" width="3" height="34" fill="#d3c668"/><rect x="291" y="486" width="3" height="30" fill="#d3c668"/><rect x="295" y="490" width="3" height="26" fill="#d3c668"/><rect x="299" y="493" width="3" height="23" fill="#d3c668"/><rect x="303" y="492" width="3" height="24" fill="#d3c668"/><rect x="307" y="493" width="3" height="23" fill="#d3c668"/><rect x="311" y="495" width="3" height="21" fill="#d3c668"/><rect x="315" y="496" width="3" height="20" fill="#d3c668"/><rect x="319" y="499" width="3" height="17" fill="#d3c668"/><rect x="323" y="499" width="3" height="17" fill="#d3c668"/><rect x="327" y="500" width="3" height="16" fill="#d3c668"/><rect x="331" y="502" width="3" height="14" fill="#d3c668"/><rect x="335" y="501" width="3" height="15" fill="#d3c668"/><rect x="339" y="502" width="3" height="14" fill="#d3c668"/><rect x="343" y="502" width="3" height="14" fill="#d3c668"/><rect x="347" y="502" width="3" height="14" fill="#d3c668"/><rect x="351" y="502" width="3" height="14" fill="#d3c668"/><rect x="243" y="516" width="112" height="1" fill="#dde4f3"/><rect x="243" y="511" width="3" height="5" fill="#bea500"/><rect x="247" y="515" width="3" height="1" fill="#bea500"/><rect x="251" y="514" width="3" height="2" fill="#bea500"/><rect x="255" y="511" width="3" height="5" fill="#bea500"/><rect x="259" y="514" width="3" height="2" fill="#bea500"/><rect x="263" y="512" width="3" height="4" fill="#bea500"/><rect x="267" y="514" width="3" height="2" fill="#bea500"/><rect x="271" y="515" width="3" height="1" fill="#bea500"/><rect x="275" y="514" width="3" height="2" fill="#bea500"/><rect x="279" y="515" width="3" height="1" fill="#bea500"/><rect x="283" y="514" width="3" height="2" fill="#bea500"/><rect x="287" y="515" width="3" height="1" fill="#bea500"/><rect x="291" y="514" width="3" height="2" fill="#bea500"/><rect x="295" y="514" width="3" height="2" fill="#bea500"/><rect x="299" y="514" width="3" height="2" fill="#bea500"/><rect x="303" y="514" width="3" height="2" fill="#bea500"/><rect x="307" y="515" width="3" height="1" fill="#bea500"/><rect x="311" y="514" width="3" height="2" fill="#bea500"/><rect x="315" y="514" width="3" height="2" fill="#bea500"/><rect x="319" y="515" width="3" height="1" fill="#bea500"/><rect x="323" y="514" width="3" height="2" fill="#bea500"/><rect x="327" y="515" width="3" height="1" fill="#bea500"/><rect x="335" y="514" width="3" height="2" fill="#bea500"/><rect x="339" y="515" width="3" height="1" fill="#bea500"/><rect x="343" y="514" width="3" height="2" fill="#bea500"/><rect x="347" y="515" width="3" height="1" fill="#bea500"/><rect x="351" y="514" width="3" height="2" fill="#bea500"/>
<text x="244.6" y="441" font-size="14" fill="#4f4f58">Oplotnica</text>
<text x="361.5" y="471" font-size="16" fill="#d7c66f">38</text>
<text x="361.5" y="487" font-size="10" fill="#161616">984</text>
<text x="361.5" y="501" font-size="10" fill="#c85443">(+4)</text>
<text x="361.5" y="516" font-size="10" fill="#5b6270">17. dec</text>
<text x="393" y="534" font-size="10" text-anchor="end"><tspan fill="#a9aeb9" font-size="9.95">Tedenski prirast</tspan><tspan dx="4" font-size="10.25" font-weight="bold" fill="#17a361">−34,8 %</tspan></text>
<rect x="440" y="474" width="3" height="42" fill="#d3c668"/><rect x="444" y="470" width="3" height="46" fill="#d3c668"/><rect x="448" y="466" width="3" height="50" fill="#d3c668"/><rect x="452" y="466" width="3" height="50" fill="#d3c668"/><rect x="456" y="463" width="3" height="53" fill="#d3c668"/><rect x="460" y="463" width="3" height="53" fill="#d3c668"/><rect x="464" y="468" width="3" height="48" fill="#d3c668"/><rect x="468" y="467" width="3" height="49" fill="#d3c668"/><rect x="472" y="467" width="3" height="49" fill="#d3c668"/><rect x="476" y="468" width="3" height="48" fill="#d3c668"/><rect x="480" y="471" width="3" height="45" fill="#d3c668"/><rect x="484" y="471" width="3" height="45" fill="#d3c668"/><rect x="487" y="474" width="4" height="42" fill="#d3c668"/><rect x="491" y="478" width="4" height="38" fill="#d3c668"/><rect x="495" y="478" width="4" height="38" fill="#d3c668"/><rect x="499" y="486" width="4" height="30" fill="#d3c668"/><rect x="503" y="491" width="4" height="25" fill="#d3c668"/><rect x="507" y="494" width="4" height="22" fill="#d3c668"/><rect x="511" y="497" width="4" height="19" fill="#d3c668"/><rect x="515" y="495" width="4" height="21" fill="#d3c668"/><rect x="519" y="496" width="4" height="20" fill="#d3c668"/><rect x="523" y="497" width="4" height="19" fill="#d3c668"/><rect x="527" y="499" width="4" height="17" fill="#d3c668"/><rect x="531" y="499" width="4" height="17" fill="#d3c668"/><rect x="535" y="498" width="3" height="18" fill="#d3c668"/><rect x="539" y="499" width="3" height="17" fill="#d3c668"/><rect x="543" y="499" width="3" height="17" fill="#d3c668"/><rect x="547" y="497" width="3" height="19" fill="#d3c668"/><rect x="440" y="516" width="111" height="1" fill="#dde4f3"/><rect x="440" y="515" width="3" height="1" fill="#bea500"/><rect x="444" y="508" width="3" height="8" fill="#bea500"/><rect x="448" y="510" width="3" height="6" fill="#bea500"/><rect x="452" y="512" width="3" height="4" fill="#bea500"/><rect x="456" y="511" width="3" height="5" fill="#bea500"/><rect x="460" y="515" width="3" height="1" fill="#bea500"/><rect x="464" y="514" width="3" height="2" fill="#bea500"/><rect x="468" y="514" width="3" height="2" fill="#bea500"/><rect x="472" y="513" width="3" height="3" fill="#bea500"/><rect x="476" y="512" width="3" height="4" fill="#bea500"/><rect x="484" y="513" width="3" height="3" fill="#bea500"/><rect x="487" y="514" width="4" height="2" fill="#bea500"/><rect x="491" y="515" width="4" height="1" fill="#bea500"/><rect x="495" y="515" width="4" height="1" fill="#bea500"/><rect x="507" y="514" width="4" height="2" fill="#bea500"/><rect x="511" y="514" width="4" height="2" fill="#bea500"/><rect x="515" y="514" width="4" height="2" fill="#bea500"/><rect x="519" y="514" width="4" height="2" fill="#bea500"/><rect x="523" y="515" width="4" height="1" fill="#bea500"/><rect x="527" y="515" width="4" height="1" fill="#bea500"/><rect x="531" y="512" width="4" height="4" fill="#bea500"/><rect x="535" y="514" width="3" height="2" fill="#bea500"/><rect x="539" y="514" width="3" height="2" fill="#bea500"/><rect x="543" y="514" width="3" height="2" fill="#bea500"/><rect x="547" y="513" width="3" height="3" fill="#bea500"/>
<text x="441.1" y="441" font-size="14" fill="#4f4f58">Gorišnica</text>
<text x="558.0" y="471" font-size="16" fill="#d7c66f">29</text>
<text x="558.0" y="487" font-size="10" fill="#161616">1.027</text>
<text x="558.0" y="501" font-size="10" fill="#c85443">(+4)</text>
<text x="558.0" y="516" font-size="10" fill="#5b6270">17. dec</text>
<text x="589.5" y="534" font-size="10" text-anchor="end"><tspan fill="#a9aeb9" font-size="9.95">Tedenski prirast</tspan><tspan dx="4" font-size="10.25" font-weight="bold" fill="#c23d2e">+90,0 %</tspan></text>
<rect x="636" y="465" width="3" height="51" fill="#d3c668"/><rect x="640" y="464" width="3" height="52" fill="#d3c668"/><rect x="644" y="463" width="3" height="53" fill="#d3c668"/><rect x="648" y="469" width="3" height="47" fill="#d3c668"/><rect x="652" y="470" width="3" height="46" fill="#d3c668"/><rect x="656" y="473" width="3" height="43" fill="#d3c668"/><rect x="660" y="480" width="3" height="36" fill="#d3c668"/><rect x="664" y="481" width="3" height="35" fill="#d3c668"/><rect x="668" y="482" width="3" height="34" fill="#d3c668"/><rect x="672" y="486" width="3" height="30" fill="#d3c668"/><rect x="676" y="487" width="3" height="29" fill="#d3c668"/><rect x="680" y="488" width="3" height="28" fill="#d3c668"/><rect x="684" y="489" width="3" height="27" fill="#d3c668"/><rect x="688" y="494" width="3" height="22" fill="#d3c668"/><rect x="692" y="494" width="3" height="22" fill="#d3c668"/><rect x="696" y="499" width="3" height="17" fill="#d3c668"/><rect x="700" y="498" width="3" height="18" fill="#d3c668"/><rect x="704" y="499" width="3" height="17" fill="#d3c668"/><rect x="708" y="501" width="3" height="15" fill="#d3c668"/><rect x="712" y="501" width="3" height="15" fill="#d3c668"/><rect x="716" y="502" width="3" height="14" fill="#d3c668"/><rect x="720" y="503" width="3" height="13" fill="#d3c668"/><rect x="724" y="505" width="3" height="11" fill="#d3c668"/><rect x="728" y="503" width="3" height="13" fill="#d3c668"/><rect x="732" y="506" width="3" height="10" fill="#d3c668"/><rect x="736" y="507" width="3" height="9" fill="#d3c668"/><rect x="740" y="508" width="3" height="8" fill="#d3c668"/><rect x="744" y="506" width="3" height="10" fill="#d3c668"/><rect x="636" y="516" width="112" height="1" fill="#dde4f3"/><rect x="640" y="510" width="3" height="6" fill="#bea500"/><rect x="644" y="514" width="3" height="2" fill="#bea500"/><rect x="648" y="514" width="3" height="2" fill="#bea500"/><rect x="652" y="513" width="3" height="3" fill="#bea500"/><rect x="656" y="514" width="3" height="2" fill="#bea500"/><rect x="660" y="514" width="3" height="2" fill="#bea500"/><rect x="664" y="514" width="3" height="2" fill="#bea500"/><rect x="668" y="514" width="3" height="2" fill="#bea500"/><rect x="672" y="514" width="3" height="2" fill="#bea500"/><rect x="676" y="514" width="3" height="2" fill="#bea500"/><rect x="680" y="513" width="3" height="3" fill="#bea500"/><rect x="684" y="514" width="3" height="2" fill="#bea500"/><rect x="700" y="514" width="3" height="2" fill="#bea500"/><rect x="704" y="515" width="3" height="1" fill="#bea500"/><rect x="708" y="515" width="3" height="1" fill="#bea500"/><rect x="712" y="514" width="3" height="2" fill="#bea500"/><rect x="720" y="515" width="3" height="1" fill="#bea500"/><rect x="724" y="515" width="3" height="1" fill="#bea500"/><rect x="728" y="514" width="3" height="2" fill="#bea500"/><rect x="736" y="514" width="3" height="2" fill="#bea500"/><rect x="740" y="515" width="3" height="1" fill="#bea500"/><rect x="744" y="514" width="3" height="2" fill="#bea500"/>
<text x="637.6" y="441" font-size="14" fill="#4f4f58">Starše</text>
<text x="754.5" y="471" font-size="16" fill="#d7c66f">22</text>
<text x="754.5" y="487" font-size="10" fill="#161616">913</text>
<text x="754.5" y="501" font-size="10" fill="#c85443">(+4)</text>
<text x="754.5" y="516" font-size="10" fill="#5b6270">17. dec</text>
<text x="786" y="534" font-size="10" text-anchor="end"><tspan fill="#a9aeb9" font-size="9.95">Tedenski prirast</tspan><tspan dx="4" font-size="10.25" font-weight="bold" fill="#c23d2e">+44,4 %</tspan></text>
<rect x="46" y="600" width="4" height="53" fill="#d3c668"/><rect x="50" y="601" width="4" height="52" fill="#d3c668"/><rect x="54" y="600" width="4" height="53" fill="#d3c668"/><rect x="58" y="604" width="4" height="49" fill="#d3c668"/><rect x="62" y="601" width="4" height="52" fill="#d3c668"/><rect x="66" y="603" width="4" height="50" fill="#d3c668"/><rect x="70" y="606" width="4" height="47" fill="#d3c668"/><rect x="74" y="605" width="4" height="48" fill="#d3c668"/><rect x="78" y="607" width="4" height="46" fill="#d3c668"/><rect x="82" y="614" width="4" height="39" fill="#d3c668"/><rect x="86" y="617" width="3" height="36" fill="#d3c668"/><rect x="90" y="617" width="3" height="36" fill="#d3c668"/><rect x="94" y="619" width="3" height="34" fill="#d3c668"/><rect x="98" y="616" width="3" height="37" fill="#d3c668"/><rect x="102" y="620" width="3" height="33" fill="#d3c668"/><rect x="106" y="619" width="3" height="34" fill="#d3c668"/><rect x="110" y="620" width="3" height="33" fill="#d3c668"/><rect x="114" y="617" width="3" height="36" fill="#d3c668"/><rect x="118" y="617" width="3" height="36" fill="#d3c668"/><rect x="122" y="613" width="3" height="40" fill="#d3c668"/><rect x="126" y="614" width="3" height="39" fill="#d3c668"/><rect x="130" y="614" width="3" height="39" fill="#d3c668"/><rect x="134" y="610" width="3" height="43" fill="#d3c668"/><rect x="138" y="609" width="3" height="44" fill="#d3c668"/><rect x="142" y="609" width="3" height="44" fill="#d3c668"/><rect x="146" y="605" width="3" height="48" fill="#d3c668"/><rect x="150" y="607" width="3" height="46" fill="#d3c668"/><rect x="154" y="609" width="3" height="44" fill="#d3c668"/><rect x="46" y="653" width="112" height="1" fill="#dde4f3"/><rect x="46" y="647" width="4" height="6" fill="#bea500"/><rect x="50" y="651" width="4" height="2" fill="#bea500"/><rect x="54" y="649" width="4" height="4" fill="#bea500"/><rect x="58" y="651" width="4" height="2" fill="#bea500"/><rect x="62" y="646" width="4" height="7" fill="#bea500"/><rect x="66" y="650" width="4" height="3" fill="#bea500"/><rect x="70" y="649" width="4" height="4" fill="#bea500"/><rect x="74" y="649" width="4" height="4" fill="#bea500"/><rect x="78" y="650" width="4" height="3" fill="#bea500"/><rect x="82" y="650" width="4" height="3" fill="#bea500"/><rect x="86" y="650" width="3" height="3" fill="#bea500"/><rect x="90" y="651" width="3" height="2" fill="#bea500"/><rect x="94" y="650" width="3" height="3" fill="#bea500"/><rect x="98" y="647" width="3" height="6" fill="#bea500"/><rect x="102" y="651" width="3" height="2" fill="#bea500"/><rect x="106" y="650" width="3" height="3" fill="#bea500"/><rect x="110" y="650" width="3" height="3" fill="#bea500"/><rect x="114" y="648" width="3" height="5" fill="#bea500"/><rect x="118" y="646" width="3" height="7" fill="#bea500"/><rect x="122" y="647" width="3" height="6" fill="#bea500"/><rect x="126" y="651" width="3" height="2" fill="#bea500"/><rect x="130" y="649" width="3" height="4" fill="#bea500"/><rect x="134" y="647" width="3" height="6" fill="#bea500"/><rect x="138" y="649" width="3" height="4" fill="#bea500"/><rect x="142" y="651" width="3" height="2" fill="#bea500"/><rect x="146" y="647" width="3" height="6" fill="#bea500"/><rect x="154" y="649" width="3" height="4" fill="#bea500"/>
<text x="47.6" y="578" font-size="14" fill="#4f4f58">Lovrenc na Pohorju</text>
<text x="164.5" y="608" font-size="16" fill="#d7c66f">48</text>
<text x="164.5" y="624" font-size="10" fill="#161616">572</text>
<text x="164.5" y="637" font-size="10" fill="#c85443">(+3)</text>
<text x="164.5" y="652" font-size="10" fill="#5b6270">17. dec</text>
<text x="196" y="671" font-size="10" text-anchor="end"><tspan fill="#a9aeb9" font-size="9.95">Tedenski prirast</tspan><tspan dx="4" font-size="10.25" font-weight="bold" fill="#161616">+0,0 %</tspan></text>
<rect x="243" y="600" width="3" height="53" fill="#d3c668"/><rect x="247" y="601" width="3" height="52" fill="#d3c668"/><rect x="251" y="605" width="3" height="48" fill="#d3c668"/><rect x="255" y="609" width="3" height="44" fill="#d3c668"/><rect x="259" y="605" width="3" height="48" fill="#d3c668"/><rect x="263" y="609" width="3" height="44" fill="#d3c668"/><rect x="267" y="615" width="3" height="38" fill="#d3c668"/><rect x="271" y="615" width="3" height="38" fill="#d3c668"/><rect x="275" y="613" width="3" height="40" fill="#d3c668"/><rect x="279" y="611" width="3" height="42" fill="#d3c668"/><rect x="283" y="611" width="3" height="42" fill="#d3c668"/><rect x="287" y="617" width="3" height="36" fill="#d3c668"/><rect x="291" y="616" width="3" height="37" fill="#d3c668"/><rect x="295" y="615" width="3" height="38" fill="#d3c668"/><rect x="299" y="620" width="3" height="33" fill="#d3c668"/><rect x="303" y="619" width="3" height="34" fill="#d3c668"/><rect x="307" y="619" width="3" height="34" fill="#d3c668"/><rect x="311" y="619" width="3" height="34" fill="#d3c668"/><rect x="315" y="621" width="3" height="32" fill="#d3c668"/><rect x="319" y="621" width="3" height="32" fill="#d3c668"/><rect x="323" y="620" width="3" height="33" fill="#d3c668"/><rect x="327" y="621" width="3" height="32" fill="#d3c668"/><rect x="331" y="620" width="3" height="33" fill="#d3c668"/><rect x="335" y="616" width="3" height="37" fill="#d3c668"/><rect x="339" y="618" width="3" height="35" fill="#d3c668"/><rect x="343" y="617" width="3" height="36" fill="#d3c668"/><rect x="347" y="615" width="3" height="38" fill="#d3c668"/><rect x="351" y="617" width="3" height="36" fill="#d3c668"/><rect x="243" y="653" width="112" height="1" fill="#dde4f3"/><rect x="243" y="648" width="3" height="5" fill="#bea500"/><rect x="247" y="651" width="3" height="2" fill="#bea500"/><rect x="251" y="649" width="3" height="4" fill="#bea500"/><rect x="255" y="652" width="3" height="1" fill="#bea500"/><rect x="259" y="646" width="3" height="7" fill="#bea500"/><rect x="263" y="650" width="3" height="3" fill="#bea500"/><rect x="267" y="652" width="3" height="1" fill="#bea500"/><rect x="271" y="651" width="3" height="2" fill="#bea500"/><rect x="275" y="649" width="3" height="4" fill="#bea500"/><rect x="279" y="649" width="3" height="4" fill="#bea500"/><rect x="283" y="649" width="3" height="4" fill="#bea500"/><rect x="287" y="651" width="3" height="2" fill="#bea500"/><rect x="291" y="650" width="3" height="3" fill="#bea500"/><rect x="295" y="649" width="3" height="4" fill="#bea500"/><rect x="303" y="650" width="3" height="3" fill="#bea500"/><rect x="307" y="650" width="3" height="3" fill="#bea500"/><rect x="311" y="651" width="3" height="2" fill="#bea500"/><rect x="315" y="649" width="3" height="4" fill="#bea500"/><rect x="319" y="650" width="3" height="3" fill="#bea500"/><rect x="323" y="651" width="3" height="2" fill="#bea500"/><rect x="331" y="648" width="3" height="5" fill="#bea500"/><rect x="335" y="645" width="3" height="8" fill="#bea500"/><rect x="339" y="651" width="3" height="2" fill="#bea500"/><rect x="343" y="650" width="3" height="3" fill="#bea500"/><rect x="347" y="648" width="3" height="5" fill="#bea500"/><rect x="351" y="650" width="3" height="3" fill="#bea500"/>
<text x="244.6" y="578" font-size="14" fill="#4f4f58">Sveta Ana</text>
<text x="361.5" y="608" font-size="16" fill="#d7c66f">48</text>
<text x="361.5" y="624" font-size="10" fill="#161616">587</text>
<text x="361.5" y="637" font-size="10" fill="#c85443">(+3)</text>
<text x="361.5" y="652" font-size="10" fill="#5b6270">17. dec</text>
<text x="393" y="671" font-size="10" text-anchor="end"><tspan fill="#a9aeb9" font-size="9.95">Tedenski prirast</tspan><tspan dx="4" font-size="10.25" font-weight="bold" fill="#c23d2e">+66,7 %</tspan></text>
<rect x="440" y="601" width="3" height="52" fill="#d3c668"/><rect x="444" y="602" width="3" height="51" fill="#d3c668"/><rect x="448" y="603" width="3" height="50" fill="#d3c668"/><rect x="452" y="605" width="3" height="48" fill="#d3c668"/><rect x="456" y="609" width="3" height="44" fill="#d3c668"/><rect x="460" y="609" width="3" height="44" fill="#d3c668"/><rect x="464" y="609" width="3" height="44" fill="#d3c668"/><rect x="468" y="612" width="3" height="41" fill="#d3c668"/><rect x="472" y="609" width="3" height="44" fill="#d3c668"/><rect x="476" y="614" width="3" height="39" fill="#d3c668"/><rect x="480" y="615" width="3" height="38" fill="#d3c668"/><rect x="484" y="613" width="3" height="40" fill="#d3c668"/><rect x="487" y="617" width="4" height="36" fill="#d3c668"/><rect x="491" y="624" width="4" height="29" fill="#d3c668"/><rect x="495" y="621" width="4" height="32" fill="#d3c668"/><rect x="499" y="618" width="4" height="35" fill="#d3c668"/><rect x="503" y="618" width="4" height="35" fill="#d3c668"/><rect x="507" y="621" width="4" height="32" fill="#d3c668"/><rect x="511" y="622" width="4" height="31" fill="#d3c668"/><rect x="515" y="622" width="4" height="31" fill="#d3c668"/><rect x="519" y="622" width="4" height="31" fill="#d3c668"/><rect x="523" y="622" width="4" height="31" fill="#d3c668"/><rect x="527" y="627" width="4" height="26" fill="#d3c668"/><rect x="531" y="623" width="4" height="30" fill="#d3c668"/><rect x="535" y="622" width="3" height="31" fill="#d3c668"/><rect x="539" y="620" width="3" height="33" fill="#d3c668"/><rect x="543" y="618" width="3" height="35" fill="#d3c668"/><rect x="547" y="617" width="3" height="36" fill="#d3c668"/><rect x="440" y="653" width="111" height="1" fill="#dde4f3"/><rect x="444" y="650" width="3" height="3" fill="#bea500"/><rect x="448" y="650" width="3" height="3" fill="#bea500"/><rect x="452" y="650" width="3" height="3" fill="#bea500"/><rect x="456" y="650" width="3" height="3" fill="#bea500"/><rect x="460" y="651" width="3" height="2" fill="#bea500"/><rect x="464" y="649" width="3" height="4" fill="#bea500"/><rect x="472" y="645" width="3" height="8" fill="#bea500"/><rect x="480" y="652" width="3" height="1" fill="#bea500"/><rect x="484" y="649" width="3" height="4" fill="#bea500"/><rect x="487" y="651" width="4" height="2" fill="#bea500"/><rect x="491" y="651" width="4" height="2" fill="#bea500"/><rect x="495" y="649" width="4" height="4" fill="#bea500"/><rect x="499" y="648" width="4" height="5" fill="#bea500"/><rect x="503" y="650" width="4" height="3" fill="#bea500"/><rect x="511" y="652" width="4" height="1" fill="#bea500"/><rect x="515" y="651" width="4" height="2" fill="#bea500"/><rect x="519" y="649" width="4" height="4" fill="#bea500"/><rect x="527" y="651" width="4" height="2" fill="#bea500"/><rect x="531" y="649" width="4" height="4" fill="#bea500"/><rect x="535" y="650" width="3" height="3" fill="#bea500"/><rect x="539" y="646" width="3" height="7" fill="#bea500"/><rect x="543" y="649" width="3" height="4" fill="#bea500"/><rect x="547" y="650" width="3" height="3" fill="#bea500"/>
<text x="441.1" y="578" font-size="14" fill="#4f4f58">Markovci</text>
<text x="558.0" y="608" font-size="16" fill="#d7c66f">45</text>
<text x="558.0" y="624" font-size="10" fill="#161616">960</text>
<text x="558.0" y="637" font-size="10" fill="#c85443">(+3)</text>
<text x="558.0" y="652" font-size="10" fill="#5b6270">17. dec</text>
<text x="589.5" y="671" font-size="10" text-anchor="end"><tspan fill="#a9aeb9" font-size="9.95">Tedenski prirast</tspan><tspan dx="4" font-size="10.25" font-weight="bold" fill="#c23d2e">+25,0 %</tspan></text>
<rect x="636" y="601" width="3" height="52" fill="#d3c668"/><rect x="640" y="600" width="3" height="53" fill="#d3c668"/><rect x="644" y="601" width="3" height="52" fill="#d3c668"/><rect x="648" y="601" width="3" height="52" fill="#d3c668"/><rect x="652" y="605" width="3" height="48" fill="#d3c668"/><rect x="656" y="605" width="3" height="48" fill="#d3c668"/><rect x="660" y="605" width="3" height="48" fill="#d3c668"/><rect x="664" y="608" width="3" height="45" fill="#d3c668"/><rect x="668" y="613" width="3" height="40" fill="#d3c668"/><rect x="672" y="614" width="3" height="39" fill="#d3c668"/><rect x="676" y="616" width="3" height="37" fill="#d3c668"/><rect x="680" y="619" width="3" height="34" fill="#d3c668"/><rect x="684" y="624" width="3" height="29" fill="#d3c668"/><rect x="688" y="625" width="3" height="28" fill="#d3c668"/><rect x="692" y="627" width="3" height="26" fill="#d3c668"/><rect x="696" y="629" width="3" height="24" fill="#d3c668"/><rect x="700" y="629" width="3" height="24" fill="#d3c668"/><rect x="704" y="629" width="3" height="24" fill="#d3c668"/><rect x="708" y="626" width="3" height="27" fill="#d3c668"/><rect x="712" y="628" width="3" height="25" fill="#d3c668"/><rect x="716" y="629" width="3" height="24" fill="#d3c668"/><rect x="720" y="629" width="3" height="24" fill="#d3c668"/><rect x="724" y="628" width="3" height="25" fill="#d3c668"/><rect x="728" y="629" width="3" height="24" fill="#d3c668"/><rect x="732" y="631" width="3" height="22" fill="#d3c668"/><rect x="736" y="631" width="3" height="22" fill="#d3c668"/><rect x="740" y="632" width="3" height="21" fill="#d3c668"/><rect x="744" y="633" width="3" height="20" fill="#d3c668"/><rect x="636" y="653" width="112" height="1" fill="#dde4f3"/><rect x="636" y="647" width="3" height="6" fill="#bea500"/><rect x="640" y="649" width="3" height="4" fill="#bea500"/><rect x="644" y="652" width="3" height="1" fill="#bea500"/><rect x="648" y="651" width="3" height="2" fill="#bea500"/><rect x="652" y="650" width="3" height="3" fill="#bea500"/><rect x="656" y="650" width="3" height="3" fill="#bea500"/><rect x="660" y="651" width="3" height="2" fill="#bea500"/><rect x="664" y="651" width="3" height="2" fill="#bea500"/><rect x="668" y="651" width="3" height="2" fill="#bea500"/><rect x="672" y="651" width="3" height="2" fill="#bea500"/><rect x="676" y="650" width="3" height="3" fill="#bea500"/><rect x="680" y="651" width="3" height="2" fill="#bea500"/><rect x="684" y="651" width="3" height="2" fill="#bea500"/><rect x="688" y="650" width="3" height="3" fill="#bea500"/><rect x="692" y="649" width="3" height="4" fill="#bea500"/><rect x="696" y="651" width="3" height="2" fill="#bea500"/><rect x="700" y="651" width="3" height="2" fill="#bea500"/><rect x="704" y="650" width="3" height="3" fill="#bea500"/><rect x="708" y="648" width="3" height="5" fill="#bea500"/><rect x="712" y="652" width="3" height="1" fill="#bea500"/><rect x="716" y="652" width="3" height="1" fill="#bea500"/><rect x="720" y="651" width="3" height="2" fill="#bea500"/><rect x="724" y="650" width="3" height="3" fill="#bea500"/><rect x="728" y="652" width="3" height="1" fill="#bea500"/><rect x="732" y="652" width="3" height="1" fill="#bea500"/><rect x="736" y="651" width="3" height="2" fill="#bea500"/><rect x="740" y="651" width="3" height="2" fill="#bea500"/><rect x="744" y="651" width="3" height="2" fill="#bea500"/>
<text x="637.6" y="578" font-size="14" fill="#4f4f58">Selnica ob Dravi</text>
<text x="754.5" y="608" font-size="16" fill="#d7c66f">39</text>
<text x="754.5" y="624" font-size="10" fill="#161616">914</text>
<text x="754.5" y="637" font-size="10" fill="#c85443">(+3)</text>
<text x="754.5" y="652" font-size="10" fill="#5b6270">17. dec</text>
<text x="786" y="671" font-size="10" text-anchor="end"><tspan fill="#a9aeb9" font-size="9.95">Tedenski prirast</tspan><tspan dx="4" font-size="10.25" font-weight="bold" fill="#17a361">−30,4 %</tspan></text>
<rect x="46" y="741" width="4" height="48" fill="#d3c668"/><rect x="50" y="738" width="4" height="51" fill="#d3c668"/><rect x="54" y="741" width="4" height="48" fill="#d3c668"/><rect x="58" y="743" width="4" height="46" fill="#d3c668"/><rect x="62" y="741" width="4" height="48" fill="#d3c668"/><rect x="66" y="737" width="4" height="52" fill="#d3c668"/><rect x="70" y="742" width="4" height="47" fill="#d3c668"/><rect x="74" y="741" width="4" height="48" fill="#d3c668"/><rect x="78" y="740" width="4" height="49" fill="#d3c668"/><rect x="82" y="742" width="4" height="47" fill="#d3c668"/><rect x="86" y="743" width="3" height="46" fill="#d3c668"/><rect x="90" y="740" width="3" height="49" fill="#d3c668"/><rect x="94" y="743" width="3" height="46" fill="#d3c668"/><rect x="98" y="745" width="3" height="44" fill="#d3c668"/><rect x="102" y="745" width="3" height="44" fill="#d3c668"/><rect x="106" y="749" width="3" height="40" fill="#d3c668"/><rect x="110" y="752" width="3" height="37" fill="#d3c668"/><rect x="114" y="749" width="3" height="40" fill="#d3c668"/><rect x="118" y="752" width="3" height="37" fill="#d3c668"/><rect x="122" y="757" width="3" height="32" fill="#d3c668"/><rect x="126" y="757" width="3" height="32" fill="#d3c668"/><rect x="130" y="758" width="3" height="31" fill="#d3c668"/><rect x="134" y="764" width="3" height="25" fill="#d3c668"/><rect x="138" y="765" width="3" height="24" fill="#d3c668"/><rect x="142" y="765" width="3" height="24" fill="#d3c668"/><rect x="146" y="769" width="3" height="20" fill="#d3c668"/><rect x="150" y="769" width="3" height="20" fill="#d3c668"/><rect x="154" y="771" width="3" height="18" fill="#d3c668"/><rect x="46" y="789" width="112" height="1" fill="#dde4f3"/><rect x="46" y="788" width="4" height="1" fill="#bea500"/><rect x="50" y="784" width="4" height="5" fill="#bea500"/><rect x="54" y="787" width="4" height="2" fill="#bea500"/><rect x="58" y="787" width="4" height="2" fill="#bea500"/><rect x="62" y="785" width="4" height="4" fill="#bea500"/><rect x="66" y="782" width="4" height="7" fill="#bea500"/><rect x="70" y="788" width="4" height="1" fill="#bea500"/><rect x="74" y="786" width="4" height="3" fill="#bea500"/><rect x="78" y="782" width="4" height="7" fill="#bea500"/><rect x="82" y="787" width="4" height="2" fill="#bea500"/><rect x="86" y="787" width="3" height="2" fill="#bea500"/><rect x="90" y="785" width="3" height="4" fill="#bea500"/><rect x="94" y="787" width="3" height="2" fill="#bea500"/><rect x="98" y="786" width="3" height="3" fill="#bea500"/><rect x="102" y="788" width="3" height="1" fill="#bea500"/><rect x="106" y="788" width="3" height="1" fill="#bea500"/><rect x="114" y="785" width="3" height="4" fill="#bea500"/><rect x="118" y="787" width="3" height="2" fill="#bea500"/><rect x="122" y="788" width="3" height="1" fill="#bea500"/><rect x="126" y="788" width="3" height="1" fill="#bea500"/><rect x="130" y="788" width="3" height="1" fill="#bea500"/><rect x="134" y="787" width="3" height="2" fill="#bea500"/><rect x="138" y="788" width="3" height="1" fill="#bea500"/><rect x="142" y="788" width="3" height="1" fill="#bea500"/><rect x="146" y="789" width="3" height="1" fill="#bea500"/><rect x="150" y="789" width="3" height="1" fill="#bea500"/><rect x="154" y="788" width="3" height="1" fill="#bea500"/>
<text x="47.6" y="714" font-size="14" fill="#4f4f58">Videm</text>
<text x="164.5" y="744" font-size="16" fill="#d7c66f">38</text>
<text x="164.5" y="760" font-size="10" fill="#161616">1.148</text>
<text x="164.5" y="774" font-size="10" fill="#c85443">(+3)</text>
<text x="164.5" y="789" font-size="10" fill="#5b6270">17. dec</text>
<text x="196" y="808" font-size="10" text-anchor="end"><tspan fill="#a9aeb9" font-size="9.95">Tedenski prirast</tspan><tspan dx="4" font-size="10.25" font-weight="bold" fill="#17a361">−34,8 %</tspan></text>
<rect x="243" y="739" width="3" height="50" fill="#d3c668"/><rect x="247" y="737" width="3" height="52" fill="#d3c668"/><rect x="251" y="737" width="3" height="52" fill="#d3c668"/><rect x="255" y="737" width="3" height="52" fill="#d3c668"/><rect x="259" y="738" width="3" height="51" fill="#d3c668"/><rect x="263" y="738" width="3" height="51" fill="#d3c668"/><rect x="267" y="741" width="3" height="48" fill="#d3c668"/><rect x="271" y="742" width="3" height="47" fill="#d3c668"/><rect x="275" y="744" width="3" height="45" fill="#d3c668"/><rect x="279" y="746" width="3" height="43" fill="#d3c668"/><rect x="283" y="748" width="3" height="41" fill="#d3c668"/><rect x="287" y="749" width="3" height="40" fill="#d3c668"/><rect x="291" y="754" width="3" height="35" fill="#d3c668"/><rect x="295" y="757" width="3" height="32" fill="#d3c668"/><rect x="299" y="757" width="3" height="32" fill="#d3c668"/><rect x="303" y="762" width="3" height="27" fill="#d3c668"/><rect x="307" y="765" width="3" height="24" fill="#d3c668"/><rect x="311" y="769" width="3" height="20" fill="#d3c668"/><rect x="315" y="770" width="3" height="19" fill="#d3c668"/><rect x="319" y="770" width="3" height="19" fill="#d3c668"/><rect x="323" y="771" width="3" height="18" fill="#d3c668"/><rect x="327" y="772" width="3" height="17" fill="#d3c668"/><rect x="331" y="773" width="3" height="16" fill="#d3c668"/><rect x="335" y="773" width="3" height="16" fill="#d3c668"/><rect x="339" y="774" width="3" height="15" fill="#d3c668"/><rect x="343" y="776" width="3" height="13" fill="#d3c668"/><rect x="347" y="775" width="3" height="14" fill="#d3c668"/><rect x="351" y="774" width="3" height="15" fill="#d3c668"/><rect x="243" y="789" width="112" height="1" fill="#dde4f3"/><rect x="243" y="788" width="3" height="1" fill="#bea500"/><rect x="247" y="783" width="3" height="6" fill="#bea500"/><rect x="251" y="785" width="3" height="4" fill="#bea500"/><rect x="255" y="785" width="3" height="4" fill="#bea500"/><rect x="259" y="787" width="3" height="2" fill="#bea500"/><rect x="263" y="787" width="3" height="2" fill="#bea500"/><rect x="267" y="787" width="3" height="2" fill="#bea500"/><rect x="271" y="787" width="3" height="2" fill="#bea500"/><rect x="275" y="787" width="3" height="2" fill="#bea500"/><rect x="279" y="787" width="3" height="2" fill="#bea500"/><rect x="283" y="787" width="3" height="2" fill="#bea500"/><rect x="287" y="787" width="3" height="2" fill="#bea500"/><rect x="295" y="788" width="3" height="1" fill="#bea500"/><rect x="299" y="788" width="3" height="1" fill="#bea500"/><rect x="303" y="789" width="3" height="1" fill="#bea500"/><rect x="307" y="788" width="3" height="1" fill="#bea500"/><rect x="315" y="789" width="3" height="1" fill="#bea500"/><rect x="319" y="788" width="3" height="1" fill="#bea500"/><rect x="323" y="788" width="3" height="1" fill="#bea500"/><rect x="327" y="788" width="3" height="1" fill="#bea500"/><rect x="331" y="788" width="3" height="1" fill="#bea500"/><rect x="335" y="788" width="3" height="1" fill="#bea500"/><rect x="339" y="788" width="3" height="1" fill="#bea500"/><rect x="347" y="789" width="3" height="1" fill="#bea500"/><rect x="351" y="788" width="3" height="1" fill="#bea500"/>
<text x="244.6" y="714" font-size="14" fill="#4f4f58">Majšperk</text>
<text x="361.5" y="744" font-size="16" fill="#d7c66f">36</text>
<text x="361.5" y="760" font-size="10" fill="#161616">993</text>
<text x="361.5" y="774" font-size="10" fill="#c85443">(+3)</text>
<text x="361.5" y="789" font-size="10" fill="#5b6270">17. dec</text>
<text x="393" y="808" font-size="10" text-anchor="end"><tspan fill="#a9aeb9" font-size="9.95">Tedenski prirast</tspan><tspan dx="4" font-size="10.25" font-weight="bold" fill="#c23d2e">+11,8 %</tspan></text>
<rect x="440" y="739" width="3" height="50" fill="#d3c668"/><rect x="444" y="737" width="3" height="52" fill="#d3c668"/><rect x="448" y="737" width="3" height="52" fill="#d3c668"/><rect x="452" y="737" width="3" height="52" fill="#d3c668"/><rect x="456" y="743" width="3" height="46" fill="#d3c668"/><rect x="460" y="742" width="3" height="47" fill="#d3c668"/><rect x="464" y="745" width="3" height="44" fill="#d3c668"/><rect x="468" y="747" width="3" height="42" fill="#d3c668"/><rect x="472" y="748" width="3" height="41" fill="#d3c668"/><rect x="476" y="749" width="3" height="40" fill="#d3c668"/><rect x="480" y="750" width="3" height="39" fill="#d3c668"/><rect x="484" y="752" width="3" height="37" fill="#d3c668"/><rect x="487" y="754" width="4" height="35" fill="#d3c668"/><rect x="491" y="757" width="4" height="32" fill="#d3c668"/><rect x="495" y="756" width="4" height="33" fill="#d3c668"/><rect x="499" y="757" width="4" height="32" fill="#d3c668"/><rect x="503" y="761" width="4" height="28" fill="#d3c668"/><rect x="507" y="758" width="4" height="31" fill="#d3c668"/><rect x="511" y="757" width="4" height="32" fill="#d3c668"/><rect x="515" y="757" width="4" height="32" fill="#d3c668"/><rect x="519" y="760" width="4" height="29" fill="#d3c668"/><rect x="523" y="760" width="4" height="29" fill="#d3c668"/><rect x="527" y="763" width="4" height="26" fill="#d3c668"/><rect x="531" y="766" width="4" height="23" fill="#d3c668"/><rect x="535" y="767" width="3" height="22" fill="#d3c668"/><rect x="539" y="770" width="3" height="19" fill="#d3c668"/><rect x="543" y="771" width="3" height="18" fill="#d3c668"/><rect x="547" y="769" width="3" height="20" fill="#d3c668"/><rect x="440" y="789" width="111" height="1" fill="#dde4f3"/><rect x="440" y="789" width="3" height="1" fill="#bea500"/><rect x="444" y="785" width="3" height="4" fill="#bea500"/><rect x="448" y="785" width="3" height="4" fill="#bea500"/><rect x="452" y="787" width="3" height="2" fill="#bea500"/><rect x="456" y="788" width="3" height="1" fill="#bea500"/><rect x="460" y="786" width="3" height="3" fill="#bea500"/><rect x="464" y="785" width="3" height="4" fill="#bea500"/><rect x="468" y="789" width="3" height="1" fill="#bea500"/><rect x="472" y="786" width="3" height="3" fill="#bea500"/><rect x="476" y="785" width="3" height="4" fill="#bea500"/><rect x="480" y="789" width="3" height="1" fill="#bea500"/><rect x="484" y="785" width="3" height="4" fill="#bea500"/><rect x="487" y="789" width="4" height="1" fill="#bea500"/><rect x="491" y="789" width="4" height="1" fill="#bea500"/><rect x="495" y="787" width="4" height="2" fill="#bea500"/><rect x="499" y="788" width="4" height="1" fill="#bea500"/><rect x="503" y="787" width="4" height="2" fill="#bea500"/><rect x="507" y="785" width="4" height="4" fill="#bea500"/><rect x="511" y="786" width="4" height="3" fill="#bea500"/><rect x="515" y="786" width="4" height="3" fill="#bea500"/><rect x="519" y="788" width="4" height="1" fill="#bea500"/><rect x="523" y="789" width="4" height="1" fill="#bea500"/><rect x="531" y="789" width="4" height="1" fill="#bea500"/><rect x="539" y="789" width="3" height="1" fill="#bea500"/><rect x="547" y="787" width="3" height="2" fill="#bea500"/>
<text x="441.1" y="714" font-size="14" fill="#4f4f58">Hajdina</text>
<text x="558.0" y="744" font-size="16" fill="#d7c66f">34</text>
<text x="558.0" y="760" font-size="10" fill="#161616">865</text>
<text x="558.0" y="774" font-size="10" fill="#c85443">(+3)</text>
<text x="558.0" y="789" font-size="10" fill="#5b6270">17. dec</text>
<text x="589.5" y="808" font-size="10" text-anchor="end"><tspan fill="#a9aeb9" font-size="9.95">Tedenski prirast</tspan><tspan dx="4" font-size="10.25" font-weight="bold" fill="#17a361">−78,6 %</tspan></text>
<rect x="636" y="750" width="3" height="39" fill="#d3c668"/><rect x="640" y="748" width="3" height="41" fill="#d3c668"/><rect x="644" y="748" width="3" height="41" fill="#d3c668"/><rect x="648" y="744" width="3" height="45" fill="#d3c668"/><rect x="652" y="742" width="3" height="47" fill="#d3c668"/><rect x="656" y="737" width="3" height="52" fill="#d3c668"/><rect x="660" y="741" width="3" height="48" fill="#d3c668"/><rect x="664" y="739" width="3" height="50" fill="#d3c668"/><rect x="668" y="741" width="3" height="48" fill="#d3c668"/><rect x="672" y="741" width="3" height="48" fill="#d3c668"/><rect x="676" y="741" width="3" height="48" fill="#d3c668"/><rect x="680" y="741" width="3" height="48" fill="#d3c668"/><rect x="684" y="746" width="3" height="43" fill="#d3c668"/><rect x="688" y="753" width="3" height="36" fill="#d3c668"/><rect x="692" y="761" width="3" height="28" fill="#d3c668"/><rect x="696" y="765" width="3" height="24" fill="#d3c668"/><rect x="700" y="766" width="3" height="23" fill="#d3c668"/><rect x="704" y="769" width="3" height="20" fill="#d3c668"/><rect x="708" y="772" width="3" height="17" fill="#d3c668"/><rect x="712" y="775" width="3" height="14" fill="#d3c668"/><rect x="716" y="775" width="3" height="14" fill="#d3c668"/><rect x="720" y="779" width="3" height="10" fill="#d3c668"/><rect x="724" y="777" width="3" height="12" fill="#d3c668"/><rect x="728" y="776" width="3" height="13" fill="#d3c668"/><rect x="732" y="779" width="3" height="10" fill="#d3c668"/><rect x="736" y="781" width="3" height="8" fill="#d3c668"/><rect x="740" y="781" width="3" height="8" fill="#d3c668"/><rect x="744" y="777" width="3" height="12" fill="#d3c668"/><rect x="636" y="789" width="112" height="1" fill="#dde4f3"/><rect x="636" y="780" width="3" height="9" fill="#bea500"/><rect x="640" y="785" width="3" height="4" fill="#bea500"/><rect x="644" y="788" width="3" height="1" fill="#bea500"/><rect x="648" y="784" width="3" height="5" fill="#bea500"/><rect x="652" y="786" width="3" height="3" fill="#bea500"/><rect x="656" y="784" width="3" height="5" fill="#bea500"/><rect x="660" y="787" width="3" height="2" fill="#bea500"/><rect x="664" y="786" width="3" height="3" fill="#bea500"/><rect x="676" y="787" width="3" height="2" fill="#bea500"/><rect x="680" y="787" width="3" height="2" fill="#bea500"/><rect x="704" y="786" width="3" height="3" fill="#bea500"/><rect x="712" y="788" width="3" height="1" fill="#bea500"/><rect x="716" y="787" width="3" height="2" fill="#bea500"/><rect x="724" y="788" width="3" height="1" fill="#bea500"/><rect x="728" y="788" width="3" height="1" fill="#bea500"/><rect x="744" y="786" width="3" height="3" fill="#bea500"/>
<text x="637.6" y="714" font-size="14" fill="#4f4f58">Sveti Tomaž</text>
<text x="754.5" y="744" font-size="16" fill="#d7c66f">11</text>
<text x="754.5" y="760" font-size="10" fill="#161616">396</text>
<text x="754.5" y="774" font-size="10" fill="#c85443">(+3)</text>
<text x="754.5" y="789" font-size="10" fill="#5b6270">17. dec</text>
<text x="786" y="808" font-size="10" text-anchor="end"><tspan fill="#a9aeb9" font-size="9.95">Tedenski prirast</tspan><tspan dx="4" font-size="10.25" font-weight="bold" fill="#17a361">−16,7 %</tspan></text>
</g></svg></body></html>
